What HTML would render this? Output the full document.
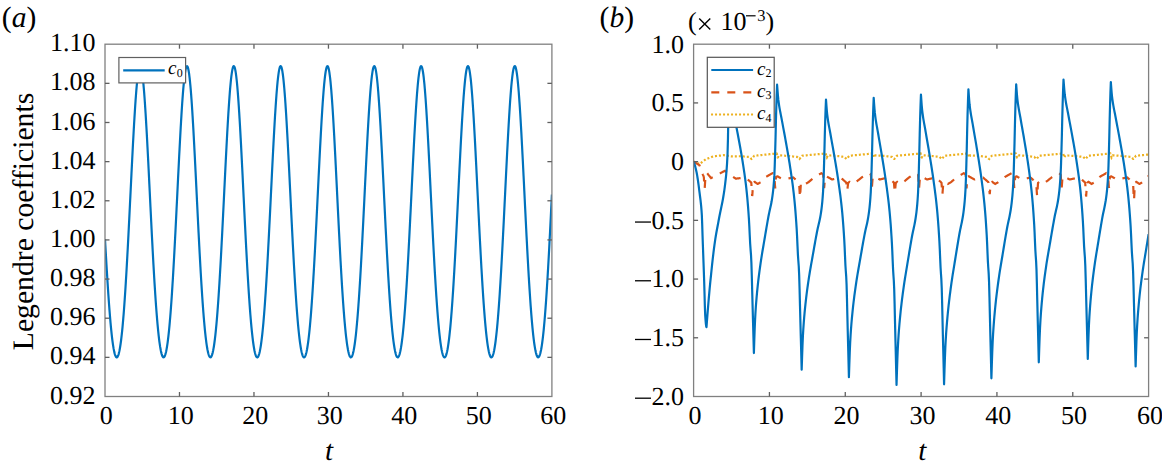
<!DOCTYPE html>
<html><head><meta charset="utf-8"><style>html,body{margin:0;padding:0;background:#fff;overflow:hidden}svg{display:block}</style></head>
<body><svg width="1162" height="468" viewBox="0 0 1162 468">
<style>
text{font-family:"Liberation Serif",serif;fill:#000;text-rendering:geometricPrecision}
.tk{font-size:26px}
</style>
<rect width="1162" height="468" fill="#fff"/>
<defs>
<clipPath id="cl"><rect x="105.0" y="44.2" width="446.90" height="352.30"/></clipPath>
<clipPath id="cr"><rect x="693.6" y="44.2" width="455.00" height="352.30"/></clipPath>
</defs>
<!-- left panel -->
<path d="M105.00,239.13L105.37,245.69L105.75,252.20L106.12,258.63L106.49,264.97L106.86,271.18L107.24,277.26L107.61,283.18L107.98,288.93L108.35,294.49L108.73,299.85L109.10,305.01L109.47,309.95L109.85,314.66L110.22,319.14L110.59,323.38L110.96,327.38L111.34,331.13L111.71,334.64L112.08,337.89L112.45,340.89L112.83,343.64L113.20,346.14L113.57,348.38L113.95,350.38L114.32,352.12L114.69,353.61L115.06,354.85L115.44,355.84L115.81,356.59L116.18,357.08L116.55,357.33L116.93,357.32L117.30,357.07L117.67,356.57L118.05,355.82L118.42,354.82L118.79,353.57L119.16,352.07L119.54,350.32L119.91,348.31L120.28,346.04L120.65,343.52L121.03,340.74L121.40,337.70L121.77,334.40L122.15,330.84L122.52,327.03L122.89,322.95L123.26,318.62L123.64,314.04L124.01,309.21L124.38,304.13L124.75,298.80L125.13,293.24L125.50,287.45L125.87,281.44L126.25,275.22L126.62,268.80L126.99,262.18L127.36,255.39L127.74,248.44L128.11,241.34L128.48,234.11L128.85,226.76L129.23,219.32L129.60,211.80L129.97,204.24L130.35,196.64L130.72,189.03L131.09,181.43L131.46,173.88L131.84,166.39L132.21,158.98L132.58,151.70L132.95,144.55L133.33,137.57L133.70,130.78L134.07,124.21L134.45,117.88L134.82,111.82L135.19,106.05L135.56,100.59L135.94,95.47L136.31,90.70L136.68,86.31L137.05,82.31L137.43,78.72L137.80,75.56L138.17,72.84L138.55,70.57L138.92,68.75L139.29,67.41L139.66,66.54L140.04,66.15L140.41,66.23L140.78,66.80L141.15,67.84L141.53,69.35L141.90,71.33L142.27,73.76L142.65,76.64L143.02,79.96L143.39,83.69L143.76,87.83L144.14,92.36L144.51,97.26L144.88,102.50L145.25,108.07L145.63,113.95L146.00,120.11L146.37,126.53L146.75,133.18L147.12,140.04L147.49,147.09L147.86,154.29L148.24,161.62L148.61,169.06L148.98,176.57L149.35,184.14L149.73,191.75L150.10,199.36L150.47,206.95L150.85,214.50L151.22,221.99L151.59,229.40L151.96,236.71L152.34,243.89L152.71,250.95L153.08,257.84L153.45,264.57L153.83,271.12L154.20,277.47L154.57,283.62L154.95,289.55L155.32,295.26L155.69,300.74L156.06,305.98L156.44,310.97L156.81,315.71L157.18,320.21L157.55,324.45L157.93,328.43L158.30,332.15L158.67,335.62L159.05,338.82L159.42,341.77L159.79,344.46L160.16,346.89L160.54,349.06L160.91,350.98L161.28,352.65L161.65,354.06L162.03,355.22L162.40,356.13L162.77,356.79L163.15,357.19L163.52,357.35L163.89,357.26L164.26,356.92L164.64,356.34L165.01,355.50L165.38,354.41L165.75,353.07L166.13,351.47L166.50,349.62L166.87,347.52L167.25,345.16L167.62,342.54L167.99,339.67L168.36,336.53L168.74,333.14L169.11,329.49L169.48,325.58L169.85,321.41L170.23,316.99L170.60,312.31L170.97,307.39L171.35,302.22L171.72,296.81L172.09,291.16L172.46,285.29L172.84,279.20L173.21,272.90L173.58,266.41L173.95,259.73L174.33,252.88L174.70,245.87L175.07,238.72L175.45,231.44L175.82,224.06L176.19,216.59L176.56,209.05L176.94,201.47L177.31,193.86L177.68,186.25L178.05,178.67L178.43,171.14L178.80,163.68L179.17,156.31L179.55,149.07L179.92,141.98L180.29,135.07L180.66,128.36L181.04,121.87L181.41,115.64L181.78,109.68L182.15,104.02L182.53,98.68L182.90,93.68L183.27,89.05L183.65,84.80L184.02,80.95L184.39,77.52L184.76,74.52L185.14,71.96L185.51,69.85L185.88,68.21L186.25,67.04L186.63,66.34L187.00,66.12L187.37,66.38L187.75,67.12L188.12,68.33L188.49,70.02L188.86,72.16L189.24,74.76L189.61,77.80L189.98,81.27L190.35,85.16L190.73,89.44L191.10,94.10L191.47,99.13L191.85,104.50L192.22,110.18L192.59,116.17L192.96,122.43L193.34,128.93L193.71,135.66L194.08,142.59L194.45,149.70L194.83,156.95L195.20,164.32L195.57,171.79L195.95,179.33L196.32,186.92L196.69,194.52L197.06,202.13L197.44,209.71L197.81,217.24L198.18,224.70L198.55,232.08L198.93,239.34L199.30,246.48L199.67,253.48L200.05,260.32L200.42,266.98L200.79,273.46L201.16,279.74L201.54,285.81L201.91,291.66L202.28,297.29L202.65,302.68L203.03,307.83L203.40,312.73L203.77,317.38L204.15,321.78L204.52,325.93L204.89,329.82L205.26,333.45L205.64,336.82L206.01,339.93L206.38,342.78L206.75,345.38L207.13,347.71L207.50,349.79L207.87,351.62L208.25,353.19L208.62,354.51L208.99,355.58L209.36,356.40L209.74,356.96L210.11,357.28L210.48,357.35L210.85,357.17L211.23,356.74L211.60,356.06L211.97,355.13L212.35,353.95L212.72,352.51L213.09,350.83L213.46,348.89L213.84,346.69L214.21,344.24L214.58,341.52L214.95,338.56L215.33,335.33L215.70,331.84L216.07,328.09L216.45,324.09L216.82,319.83L217.19,315.31L217.56,310.54L217.94,305.53L218.31,300.27L218.68,294.77L219.05,289.05L219.43,283.09L219.80,276.93L220.17,270.56L220.55,263.99L220.92,257.25L221.29,250.34L221.66,243.28L222.04,236.08L222.41,228.76L222.78,221.34L223.15,213.84L223.53,206.29L223.90,198.69L224.27,191.09L224.65,183.48L225.02,175.92L225.39,168.41L225.76,160.98L226.14,153.66L226.51,146.47L226.88,139.44L227.25,132.60L227.63,125.96L228.00,119.57L228.37,113.43L228.75,107.58L229.12,102.03L229.49,96.82L229.86,91.95L230.24,87.46L230.61,83.35L230.98,79.65L231.35,76.37L231.73,73.53L232.10,71.14L232.47,69.20L232.85,67.73L233.22,66.73L233.59,66.20L233.96,66.16L234.34,66.60L234.71,67.51L235.08,68.89L235.45,70.75L235.83,73.06L236.20,75.82L236.57,79.02L236.95,82.64L237.32,86.67L237.69,91.10L238.06,95.90L238.44,101.05L238.81,106.54L239.18,112.33L239.55,118.42L239.93,124.77L240.30,131.36L240.67,138.17L241.05,145.17L241.42,152.33L241.79,159.62L242.16,167.03L242.54,174.53L242.91,182.09L243.28,189.69L243.65,197.30L244.03,204.90L244.40,212.46L244.77,219.97L245.15,227.40L245.52,234.74L245.89,241.96L246.26,249.05L246.64,255.99L247.01,262.77L247.38,269.37L247.75,275.77L248.13,281.98L248.50,287.97L248.87,293.74L249.25,299.28L249.62,304.58L249.99,309.64L250.36,314.46L250.74,319.02L251.11,323.33L251.48,327.38L251.85,331.17L252.23,334.71L252.60,337.98L252.97,341.00L253.35,343.76L253.72,346.26L254.09,348.50L254.46,350.49L254.84,352.22L255.21,353.70L255.58,354.93L255.95,355.91L256.33,356.63L256.70,357.11L257.07,357.33L257.45,357.31L257.82,357.04L258.19,356.52L258.56,355.75L258.94,354.73L259.31,353.45L259.68,351.93L260.05,350.15L260.43,348.11L260.80,345.82L261.17,343.28L261.55,340.47L261.92,337.41L262.29,334.08L262.66,330.50L263.04,326.66L263.41,322.56L263.78,318.21L264.15,313.60L264.53,308.74L264.90,303.64L265.27,298.29L265.65,292.71L266.02,286.90L266.39,280.87L266.76,274.63L267.14,268.19L267.51,261.55L267.88,254.75L268.25,247.78L268.63,240.66L269.00,233.42L269.37,226.06L269.75,218.62L270.12,211.09L270.49,203.52L270.86,195.92L271.24,188.31L271.61,180.72L271.98,173.17L272.35,165.68L272.73,158.29L273.10,151.02L273.47,143.88L273.85,136.92L274.22,130.15L274.59,123.60L274.96,117.30L275.34,111.26L275.71,105.52L276.08,100.09L276.45,95.00L276.83,90.27L277.20,85.91L277.57,81.95L277.95,78.41L278.32,75.29L278.69,72.60L279.06,70.38L279.44,68.61L279.81,67.31L280.18,66.48L280.55,66.13L280.93,66.26L281.30,66.87L281.67,67.96L282.05,69.52L282.42,71.54L282.79,74.01L283.16,76.94L283.54,80.29L283.91,84.07L284.28,88.24L284.65,92.81L285.03,97.74L285.40,103.01L285.77,108.62L286.15,114.52L286.52,120.71L286.89,127.15L287.26,133.82L287.64,140.70L288.01,147.76L288.38,154.97L288.75,162.32L289.13,169.76L289.50,177.28L289.87,184.86L290.25,192.46L290.62,200.07L290.99,207.66L291.36,215.21L291.74,222.69L292.11,230.09L292.48,237.39L292.85,244.57L293.23,251.60L293.60,258.49L293.97,265.20L294.35,271.73L294.72,278.06L295.09,284.19L295.46,290.10L295.84,295.79L296.21,301.24L296.58,306.46L296.95,311.43L297.33,316.15L297.70,320.62L298.07,324.83L298.45,328.79L298.82,332.49L299.19,335.93L299.56,339.11L299.94,342.04L300.31,344.70L300.68,347.11L301.05,349.26L301.43,351.15L301.80,352.79L302.17,354.18L302.55,355.32L302.92,356.20L303.29,356.83L303.66,357.22L304.04,357.36L304.41,357.24L304.78,356.88L305.15,356.27L305.53,355.40L305.90,354.29L306.27,352.93L306.65,351.31L307.02,349.44L307.39,347.31L307.76,344.92L308.14,342.28L308.51,339.38L308.88,336.23L309.25,332.81L309.63,329.13L310.00,325.20L310.37,321.01L310.75,316.56L311.12,311.86L311.49,306.91L311.86,301.72L312.24,296.28L312.61,290.62L312.98,284.73L313.35,278.62L313.73,272.30L314.10,265.79L314.47,259.09L314.85,252.22L315.22,245.20L315.59,238.04L315.96,230.75L316.34,223.36L316.71,215.88L317.08,208.34L317.45,200.75L317.83,193.14L318.20,185.54L318.57,177.96L318.95,170.43L319.32,162.98L319.69,155.62L320.06,148.40L320.44,141.32L320.81,134.43L321.18,127.74L321.55,121.27L321.93,115.06L322.30,109.13L322.67,103.50L323.05,98.19L323.42,93.23L323.79,88.63L324.16,84.42L324.54,80.61L324.91,77.22L325.28,74.26L325.65,71.74L326.03,69.68L326.40,68.08L326.77,66.95L327.15,66.30L327.52,66.13L327.89,66.43L328.26,67.21L328.64,68.47L329.01,70.20L329.38,72.39L329.75,75.03L330.13,78.11L330.50,81.62L330.87,85.54L331.25,89.86L331.62,94.56L331.99,99.62L332.36,105.02L332.74,110.74L333.11,116.75L333.48,123.03L333.85,129.56L334.23,136.31L334.60,143.26L334.97,150.37L335.35,157.64L335.72,165.02L336.09,172.50L336.46,180.04L336.84,187.63L337.21,195.24L337.58,202.84L337.95,210.42L338.33,217.95L338.70,225.40L339.07,232.77L339.45,240.02L339.82,247.15L340.19,254.13L340.56,260.95L340.94,267.60L341.31,274.06L341.68,280.32L342.05,286.37L342.43,292.20L342.80,297.80L343.17,303.17L343.55,308.30L343.92,313.18L344.29,317.81L344.66,322.19L345.04,326.31L345.41,330.17L345.78,333.78L346.15,337.12L346.53,340.21L346.90,343.04L347.27,345.61L347.65,347.92L348.02,349.98L348.39,351.78L348.76,353.33L349.14,354.62L349.51,355.67L349.88,356.46L350.25,357.00L350.63,357.30L351.00,357.34L351.37,357.14L351.75,356.68L352.12,355.98L352.49,355.03L352.86,353.82L353.24,352.36L353.61,350.65L353.98,348.69L354.35,346.47L354.73,343.99L355.10,341.26L355.47,338.26L355.85,335.01L356.22,331.50L356.59,327.73L356.96,323.70L357.34,319.41L357.71,314.87L358.08,310.08L358.45,305.04L358.83,299.76L359.20,294.24L359.57,288.49L359.95,282.52L360.32,276.34L360.69,269.95L361.06,263.37L361.44,256.60L361.81,249.68L362.18,242.60L362.55,235.39L362.93,228.06L363.30,220.64L363.67,213.13L364.05,205.57L364.42,197.98L364.79,190.37L365.16,182.77L365.54,175.20L365.91,167.70L366.28,160.28L366.65,152.97L367.03,145.80L367.40,138.79L367.77,131.96L368.15,125.35L368.52,118.98L368.89,112.87L369.26,107.04L369.64,101.53L370.01,96.34L370.38,91.51L370.75,87.05L371.13,82.98L371.50,79.32L371.87,76.09L372.25,73.29L372.62,70.93L372.99,69.04L373.36,67.61L373.74,66.66L374.11,66.18L374.48,66.18L374.85,66.66L375.23,67.62L375.60,69.05L375.97,70.94L376.35,73.30L376.72,76.10L377.09,79.34L377.46,83.00L377.84,87.07L378.21,91.53L378.58,96.37L378.95,101.55L379.33,107.07L379.70,112.90L380.07,119.01L380.45,125.38L380.82,132.00L381.19,138.82L381.56,145.83L381.94,153.01L382.31,160.32L382.68,167.74L383.05,175.24L383.43,182.81L383.80,190.41L384.17,198.02L384.55,205.61L384.92,213.17L385.29,220.68L385.66,228.10L386.04,235.43L386.41,242.64L386.78,249.71L387.15,256.64L387.53,263.40L387.90,269.98L388.27,276.37L388.65,282.55L389.02,288.52L389.39,294.27L389.76,299.79L390.14,305.07L390.51,310.11L390.88,314.90L391.25,319.44L391.63,323.72L392.00,327.75L392.37,331.52L392.75,335.03L393.12,338.28L393.49,341.27L393.86,344.00L394.24,346.48L394.61,348.70L394.98,350.66L395.35,352.37L395.73,353.83L396.10,355.03L396.47,355.99L396.85,356.69L397.22,357.14L397.59,357.34L397.96,357.30L398.34,357.00L398.71,356.46L399.08,355.66L399.45,354.62L399.83,353.32L400.20,351.77L400.57,349.97L400.95,347.91L401.32,345.59L401.69,343.02L402.06,340.19L402.44,337.11L402.81,333.76L403.18,330.15L403.55,326.29L403.93,322.16L404.30,317.79L404.67,313.15L405.05,308.27L405.42,303.14L405.79,297.78L406.16,292.17L406.54,286.34L406.91,280.29L407.28,274.03L407.65,267.57L408.03,260.92L408.40,254.10L408.77,247.11L409.15,239.99L409.52,232.73L409.89,225.36L410.26,217.91L410.64,210.38L411.01,202.81L411.38,195.20L411.75,187.59L412.13,180.00L412.50,172.46L412.87,164.98L413.25,157.60L413.62,150.34L413.99,143.22L414.36,136.27L414.74,129.52L415.11,123.00L415.48,116.72L415.85,110.71L416.23,104.99L416.60,99.60L416.97,94.54L417.35,89.84L417.72,85.52L418.09,81.60L418.46,78.09L418.84,75.01L419.21,72.37L419.58,70.19L419.95,68.46L420.33,67.21L420.70,66.43L421.07,66.13L421.45,66.30L421.82,66.96L422.19,68.09L422.56,69.69L422.94,71.75L423.31,74.27L423.68,77.23L424.05,80.63L424.43,84.44L424.80,88.66L425.17,93.26L425.55,98.22L425.92,103.53L426.29,109.16L426.66,115.09L427.04,121.31L427.41,127.77L427.78,134.46L428.15,141.36L428.53,148.43L428.90,155.66L429.27,163.01L429.65,170.47L430.02,178.00L430.39,185.58L430.76,193.18L431.14,200.79L431.51,208.38L431.88,215.92L432.25,223.39L432.63,230.79L433.00,238.07L433.37,245.24L433.75,252.26L434.12,259.13L434.49,265.82L434.86,272.33L435.24,278.65L435.61,284.76L435.98,290.65L436.35,296.31L436.73,301.74L437.10,306.94L437.47,311.88L437.85,316.58L438.22,321.03L438.59,325.22L438.96,329.15L439.34,332.83L439.71,336.24L440.08,339.40L440.45,342.30L440.83,344.94L441.20,347.32L441.57,349.45L441.95,351.32L442.32,352.93L442.69,354.30L443.06,355.41L443.44,356.27L443.81,356.88L444.18,357.24L444.55,357.36L444.93,357.22L445.30,356.83L445.67,356.20L446.05,355.31L446.42,354.17L446.79,352.78L447.16,351.14L447.54,349.25L447.91,347.09L448.28,344.69L448.65,342.02L449.03,339.10L449.40,335.91L449.77,332.47L450.15,328.77L450.52,324.81L450.89,320.60L451.26,316.13L451.64,311.40L452.01,306.43L452.38,301.21L452.75,295.76L453.13,290.07L453.50,284.16L453.87,278.03L454.25,271.69L454.62,265.16L454.99,258.45L455.36,251.57L455.74,244.53L456.11,237.35L456.48,230.06L456.85,222.65L457.23,215.17L457.60,207.62L457.97,200.03L458.35,192.43L458.72,184.82L459.09,177.25L459.46,169.72L459.84,162.28L460.21,154.94L460.58,147.72L460.95,140.66L461.33,133.79L461.70,127.12L462.07,120.68L462.45,114.49L462.82,108.59L463.19,102.99L463.56,97.71L463.94,92.78L464.31,88.22L464.68,84.04L465.05,80.27L465.43,76.92L465.80,74.00L466.17,71.52L466.55,69.51L466.92,67.95L467.29,66.87L467.66,66.26L468.04,66.13L468.41,66.48L468.78,67.31L469.15,68.62L469.53,70.39L469.90,72.62L470.27,75.30L470.65,78.42L471.02,81.97L471.39,85.93L471.76,90.29L472.14,95.03L472.51,100.12L472.88,105.55L473.25,111.29L473.63,117.33L474.00,123.64L474.37,130.19L474.75,136.96L475.12,143.92L475.49,151.05L475.86,158.33L476.24,165.72L476.61,173.21L476.98,180.76L477.35,188.35L477.73,195.96L478.10,203.56L478.47,211.13L478.85,218.65L479.22,226.10L479.59,233.46L479.96,240.70L480.34,247.82L480.71,254.78L481.08,261.59L481.45,268.22L481.83,274.66L482.20,280.90L482.57,286.93L482.95,292.74L483.32,298.32L483.69,303.67L484.06,308.77L484.44,313.63L484.81,318.23L485.18,322.59L485.55,326.68L485.93,330.52L486.30,334.10L486.67,337.42L487.05,340.49L487.42,343.29L487.79,345.84L488.16,348.12L488.54,350.16L488.91,351.94L489.28,353.46L489.65,354.73L490.03,355.75L490.40,356.52L490.77,357.04L491.15,357.31L491.52,357.33L491.89,357.11L492.26,356.63L492.64,355.90L493.01,354.92L493.38,353.70L493.75,352.21L494.13,350.48L494.50,348.49L494.87,346.25L495.25,343.74L495.62,340.98L495.99,337.97L496.36,334.69L496.74,331.15L497.11,327.36L497.48,323.30L497.85,319.00L498.23,314.43L498.60,309.62L498.97,304.56L499.35,299.25L499.72,293.71L500.09,287.94L500.46,281.95L500.84,275.74L501.21,269.33L501.58,262.74L501.95,255.96L502.33,249.02L502.70,241.93L503.07,234.70L503.45,227.37L503.82,219.93L504.19,212.42L504.56,204.86L504.94,197.26L505.31,189.65L505.68,182.05L506.05,174.49L506.43,167.00L506.80,159.59L507.17,152.29L507.55,145.13L507.92,138.13L508.29,131.33L508.66,124.74L509.04,118.39L509.41,112.30L509.78,106.51L510.15,101.02L510.53,95.87L510.90,91.07L511.27,86.65L511.65,82.62L512.02,79.00L512.39,75.80L512.76,73.04L513.14,70.73L513.51,68.88L513.88,67.50L514.25,66.59L514.63,66.16L515.00,66.21L515.37,66.73L515.75,67.73L516.12,69.21L516.49,71.15L516.86,73.54L517.24,76.39L517.61,79.67L517.98,83.37L518.35,87.48L518.73,91.98L519.10,96.84L519.47,102.06L519.85,107.61L520.22,113.46L520.59,119.60L520.96,126.00L521.34,132.63L521.71,139.48L522.08,146.50L522.45,153.69L522.83,161.01L523.20,168.44L523.57,175.96L523.95,183.52L524.32,191.12L524.69,198.73L525.06,206.33L525.44,213.88L525.81,221.38L526.18,228.80L526.55,236.11L526.93,243.31L527.30,250.37L527.67,257.29L528.05,264.03L528.42,270.59L528.79,276.96L529.16,283.13L529.54,289.08L529.91,294.80L530.28,300.30L530.65,305.56L531.03,310.57L531.40,315.34L531.77,319.85L532.15,324.11L532.52,328.11L532.89,331.86L533.26,335.34L533.64,338.57L534.01,341.54L534.38,344.25L534.75,346.70L535.13,348.90L535.50,350.84L535.87,352.52L536.25,353.95L536.62,355.13L536.99,356.06L537.36,356.74L537.74,357.17L538.11,357.35L538.48,357.28L538.85,356.96L539.23,356.39L539.60,355.57L539.97,354.51L540.35,353.18L540.72,351.61L541.09,349.78L541.46,347.70L541.84,345.36L542.21,342.77L542.58,339.91L542.95,336.80L543.33,333.43L543.70,329.80L544.07,325.91L544.45,321.76L544.82,317.36L545.19,312.70L545.56,307.80L545.94,302.65L546.31,297.26L546.68,291.63L547.05,285.78L547.43,279.71L547.80,273.43L548.17,266.95L548.55,260.28L548.92,253.44L549.29,246.45L549.66,239.31L550.04,232.04L550.41,224.66L550.78,217.20L551.15,209.67L551.53,202.09L551.90,194.48" fill="none" stroke="#0072BD" stroke-width="2.2" stroke-linejoin="round" clip-path="url(#cl)"/>
<rect x="105.0" y="44.2" width="446.90" height="352.30" fill="none" stroke="#808080" stroke-width="1.3"/>
<line x1="179.48" y1="396.5" x2="179.48" y2="392.0" stroke="#606060" stroke-width="1.3"/>
<line x1="179.48" y1="44.2" x2="179.48" y2="48.7" stroke="#606060" stroke-width="1.3"/>
<line x1="253.97" y1="396.5" x2="253.97" y2="392.0" stroke="#606060" stroke-width="1.3"/>
<line x1="253.97" y1="44.2" x2="253.97" y2="48.7" stroke="#606060" stroke-width="1.3"/>
<line x1="328.45" y1="396.5" x2="328.45" y2="392.0" stroke="#606060" stroke-width="1.3"/>
<line x1="328.45" y1="44.2" x2="328.45" y2="48.7" stroke="#606060" stroke-width="1.3"/>
<line x1="402.93" y1="396.5" x2="402.93" y2="392.0" stroke="#606060" stroke-width="1.3"/>
<line x1="402.93" y1="44.2" x2="402.93" y2="48.7" stroke="#606060" stroke-width="1.3"/>
<line x1="477.42" y1="396.5" x2="477.42" y2="392.0" stroke="#606060" stroke-width="1.3"/>
<line x1="477.42" y1="44.2" x2="477.42" y2="48.7" stroke="#606060" stroke-width="1.3"/>
<line x1="105.0" y1="357.36" x2="109.5" y2="357.36" stroke="#606060" stroke-width="1.3"/>
<line x1="551.9" y1="357.36" x2="547.4" y2="357.36" stroke="#606060" stroke-width="1.3"/>
<line x1="105.0" y1="318.21" x2="109.5" y2="318.21" stroke="#606060" stroke-width="1.3"/>
<line x1="551.9" y1="318.21" x2="547.4" y2="318.21" stroke="#606060" stroke-width="1.3"/>
<line x1="105.0" y1="279.07" x2="109.5" y2="279.07" stroke="#606060" stroke-width="1.3"/>
<line x1="551.9" y1="279.07" x2="547.4" y2="279.07" stroke="#606060" stroke-width="1.3"/>
<line x1="105.0" y1="239.92" x2="109.5" y2="239.92" stroke="#606060" stroke-width="1.3"/>
<line x1="551.9" y1="239.92" x2="547.4" y2="239.92" stroke="#606060" stroke-width="1.3"/>
<line x1="105.0" y1="200.78" x2="109.5" y2="200.78" stroke="#606060" stroke-width="1.3"/>
<line x1="551.9" y1="200.78" x2="547.4" y2="200.78" stroke="#606060" stroke-width="1.3"/>
<line x1="105.0" y1="161.63" x2="109.5" y2="161.63" stroke="#606060" stroke-width="1.3"/>
<line x1="551.9" y1="161.63" x2="547.4" y2="161.63" stroke="#606060" stroke-width="1.3"/>
<line x1="105.0" y1="122.49" x2="109.5" y2="122.49" stroke="#606060" stroke-width="1.3"/>
<line x1="551.9" y1="122.49" x2="547.4" y2="122.49" stroke="#606060" stroke-width="1.3"/>
<line x1="105.0" y1="83.34" x2="109.5" y2="83.34" stroke="#606060" stroke-width="1.3"/>
<line x1="551.9" y1="83.34" x2="547.4" y2="83.34" stroke="#606060" stroke-width="1.3"/>
<text x="106.30" y="424.3" text-anchor="middle" class="tk">0</text>
<text x="180.78" y="424.3" text-anchor="middle" class="tk">10</text>
<text x="255.27" y="424.3" text-anchor="middle" class="tk">20</text>
<text x="329.75" y="424.3" text-anchor="middle" class="tk">30</text>
<text x="404.23" y="424.3" text-anchor="middle" class="tk">40</text>
<text x="478.72" y="424.3" text-anchor="middle" class="tk">50</text>
<text x="553.20" y="424.3" text-anchor="middle" class="tk">60</text>
<text x="95.50" y="403.60" text-anchor="end" class="tk">0.92</text>
<text x="95.50" y="364.46" text-anchor="end" class="tk">0.94</text>
<text x="95.50" y="325.31" text-anchor="end" class="tk">0.96</text>
<text x="95.50" y="286.17" text-anchor="end" class="tk">0.98</text>
<text x="95.50" y="247.02" text-anchor="end" class="tk">1.00</text>
<text x="95.50" y="207.88" text-anchor="end" class="tk">1.02</text>
<text x="95.50" y="168.73" text-anchor="end" class="tk">1.04</text>
<text x="95.50" y="129.59" text-anchor="end" class="tk">1.06</text>
<text x="95.50" y="90.44" text-anchor="end" class="tk">1.08</text>
<text x="95.50" y="51.30" text-anchor="end" class="tk">1.10</text>
<g>
<rect x="118.9" y="57.5" width="66.7" height="25.4" fill="#fff" stroke="#606060" stroke-width="1.2"/>
<line x1="123.2" y1="70.3" x2="164.7" y2="70.3" stroke="#0072BD" stroke-width="2.2"/>
<text x="168" y="73.9" font-size="19" font-style="italic">c</text><text x="176.8" y="76.5" font-size="12">0</text>
</g>
<text x="1.8" y="26.9" font-size="29.5">(<tspan font-style="italic">a</tspan>)</text>
<text transform="translate(32.7,221.5) rotate(-90)" text-anchor="middle" font-size="29.7">Legendre coefficients</text>
<text x="329.0" y="460.0" text-anchor="middle" font-size="29" font-style="italic">t</text>
<!-- right panel -->
<g clip-path="url(#cr)">
<path d="M693.60,161.63L693.75,161.69L693.90,161.75L694.06,161.81L694.21,161.87L694.36,161.93L694.51,161.99L694.66,162.04L694.81,162.10L694.97,162.16L695.12,162.22L695.27,162.28L695.42,162.34L695.57,162.40L695.72,162.46L695.88,162.51L696.03,162.57L696.18,162.63L696.33,162.69L696.48,162.75L696.63,162.81L696.79,162.87L696.94,162.93L697.09,162.98L697.24,163.04L697.39,163.10L697.54,163.16L697.70,163.22L697.85,163.28L698.00,163.34L698.15,163.40L698.30,163.45L698.45,163.51L698.61,163.57L698.76,163.63L698.91,163.69L699.06,163.75L699.21,163.81L699.37,163.87L699.52,163.92L699.67,163.98L699.82,163.86L699.97,163.75L700.12,163.63L700.28,163.51L700.43,163.39L700.58,163.28L700.73,163.16L700.88,163.04L701.03,162.92L701.19,162.81L701.34,162.69L701.49,162.57L701.64,162.45L701.79,162.34L701.94,162.22L702.10,162.10L702.25,161.98L702.40,161.87L702.55,161.75L702.70,161.63L702.85,161.51L703.01,161.40L703.16,161.28L703.31,161.16L703.46,161.04L703.61,160.93L703.77,160.81L703.92,160.69L704.07,160.57L704.22,160.46L704.37,160.34L704.52,160.22L704.68,160.10L704.83,159.99L704.98,159.87L705.13,159.75L705.28,159.63L705.43,159.52L705.59,159.40L705.74,159.28L705.89,159.22L706.04,159.17L706.19,159.11L706.34,159.05L706.50,158.99L706.65,158.93L706.80,158.87L706.95,158.81L707.10,158.75L707.25,158.70L707.41,158.64L707.56,158.58L707.71,158.52L707.86,158.46L708.01,158.40L708.16,158.34L708.32,158.28L708.47,158.23L708.62,158.17L708.77,158.11L708.92,158.05L709.08,157.99L709.23,157.93L709.38,157.87L709.53,157.81L709.68,157.76L709.83,157.70L709.99,157.64L710.14,157.58L710.29,157.52L710.44,157.46L710.59,157.40L710.74,157.34L710.90,157.29L711.05,157.23L711.20,157.17L711.35,157.11L711.50,157.05L711.65,156.99L711.81,156.93L711.96,156.87L712.11,156.82L712.26,156.76L712.41,156.70L712.56,156.64L712.72,156.58L712.87,156.52L713.02,156.46L713.17,156.41L713.32,156.35L713.47,156.33L713.63,156.31L713.78,156.30L713.93,156.28L714.08,156.26L714.23,156.25L714.39,156.23L714.54,156.21L714.69,156.20L714.84,156.18L714.99,156.16L715.14,156.15L715.30,156.13L715.45,156.11L715.60,156.10L715.75,156.08L715.90,156.06L716.05,156.05L716.21,156.03L716.36,156.01L716.51,156.00L716.66,155.98L716.81,155.96L716.96,155.95L717.12,155.93L717.27,155.91L717.42,155.89L717.57,155.88L717.72,155.86L717.87,155.84L718.03,155.83L718.18,155.81L718.33,155.79L718.48,155.78L718.63,155.76L718.79,155.74L718.94,155.73L719.09,155.71L719.24,155.69L719.39,155.68L719.54,155.66L719.70,155.64L719.85,155.63L720.00,155.61L720.15,155.59L720.30,155.58L720.45,155.56L720.61,155.54L720.76,155.53L720.91,155.51L721.06,155.49L721.21,155.48L721.36,155.46L721.52,155.44L721.67,155.43L721.82,155.41L721.97,155.39L722.12,155.37L722.27,155.36L722.43,155.34L722.58,155.32L722.73,155.31L722.88,155.29L723.03,155.27L723.18,155.26L723.34,155.24L723.49,155.22L723.64,155.21L723.79,155.19L723.94,155.18L724.10,155.20L724.25,155.23L724.40,155.25L724.55,155.28L724.70,155.30L724.85,155.33L725.01,155.35L725.16,155.38L725.31,155.41L725.46,155.43L725.61,155.46L725.76,155.48L725.92,155.51L726.07,155.53L726.22,155.56L726.37,155.58L726.52,155.61L726.67,155.64L726.83,155.66L726.98,155.69L727.13,155.71L727.28,155.74L727.43,155.76L727.58,155.79L727.74,155.81L727.89,155.84L728.04,155.87L728.19,155.89L728.34,155.92L728.49,155.94L728.65,155.97L728.80,155.99L728.95,156.02L729.10,156.04L729.25,156.07L729.41,156.10L729.56,156.12L729.71,156.15L729.86,156.17L730.01,156.20L730.16,156.22L730.32,156.25L730.47,156.27L730.62,156.30L730.77,156.33L730.92,156.35L731.07,156.35L731.23,156.35L731.38,156.34L731.53,156.34L731.68,156.34L731.83,156.34L731.98,156.34L732.14,156.33L732.29,156.33L732.44,156.33L732.59,156.33L732.74,156.33L732.89,156.33L733.05,156.32L733.20,156.32L733.35,156.32L733.50,156.32L733.65,156.32L733.81,156.31L733.96,156.31L734.11,156.31L734.26,156.31L734.41,156.31L734.56,156.31L734.72,156.30L734.87,156.30L735.02,156.30L735.17,156.30L735.32,156.30L735.47,156.29L735.63,156.29L735.78,156.29L735.93,156.29L736.08,156.29L736.23,156.29L736.38,156.28L736.54,156.28L736.69,156.28L736.84,156.28L736.99,156.28L737.14,156.27L737.29,156.27L737.45,156.27L737.60,156.27L737.75,156.27L737.90,156.27L738.05,156.26L738.20,156.26L738.36,156.26L738.51,156.26L738.66,156.26L738.81,156.25L738.96,156.25L739.12,156.25L739.27,156.25L739.42,156.25L739.57,156.25L739.72,156.24L739.87,156.24L740.03,156.24L740.18,156.24L740.33,156.24L740.48,156.23L740.63,156.23L740.78,156.23L740.94,156.25L741.09,156.26L741.24,156.27L741.39,156.28L741.54,156.30L741.69,156.31L741.85,156.32L742.00,156.33L742.15,156.34L742.30,156.36L742.45,156.37L742.60,156.38L742.76,156.39L742.91,156.41L743.06,156.42L743.21,156.43L743.36,156.44L743.51,156.46L743.67,156.47L743.82,156.48L743.97,156.49L744.12,156.51L744.27,156.52L744.43,156.53L744.58,156.54L744.73,156.56L744.88,156.57L745.03,156.58L745.18,156.59L745.34,156.61L745.49,156.62L745.64,156.63L745.79,156.64L745.94,156.66L746.09,156.67L746.25,156.68L746.40,156.69L746.55,156.71L746.70,156.72L746.85,156.73L747.00,156.74L747.16,156.76L747.31,156.77L747.46,156.78L747.61,156.79L747.76,156.81L747.91,156.82L748.07,156.83L748.22,156.84L748.37,156.86L748.52,156.87L748.67,156.88L748.83,156.89L748.98,156.91L749.13,156.92L749.28,156.93L749.43,157.02L749.58,157.16L749.74,157.31L749.89,157.45L750.04,157.59L750.19,157.73L750.34,157.87L750.49,158.01L750.65,158.15L750.80,158.29L750.95,158.43L751.10,158.57L751.25,158.72L751.40,158.86L751.56,159.00L751.71,158.93L751.86,158.74L752.01,158.56L752.16,158.37L752.31,158.18L752.47,157.99L752.62,157.80L752.77,157.62L752.92,157.43L753.07,157.24L753.22,157.05L753.38,156.86L753.53,156.68L753.68,156.49L753.83,156.30L753.98,156.11L754.14,155.92L754.29,155.76L754.44,155.74L754.59,155.73L754.74,155.72L754.89,155.70L755.05,155.69L755.20,155.67L755.35,155.66L755.50,155.64L755.65,155.63L755.80,155.61L755.96,155.60L756.11,155.58L756.26,155.57L756.41,155.55L756.56,155.54L756.71,155.52L756.87,155.51L757.02,155.49L757.17,155.48L757.32,155.46L757.47,155.45L757.62,155.43L757.78,155.42L757.93,155.40L758.08,155.39L758.23,155.37L758.38,155.36L758.53,155.34L758.69,155.33L758.84,155.31L758.99,155.30L759.14,155.28L759.29,155.27L759.45,155.26L759.60,155.24L759.75,155.23L759.90,155.21L760.05,155.20L760.20,155.18L760.36,155.17L760.51,155.15L760.66,155.14L760.81,155.12L760.96,155.11L761.11,155.09L761.27,155.08L761.42,155.06L761.57,155.05L761.72,155.03L761.87,155.01L762.02,155.00L762.18,154.98L762.33,154.97L762.48,154.95L762.63,154.93L762.78,154.92L762.93,154.90L763.09,154.89L763.24,154.87L763.39,154.85L763.54,154.84L763.69,154.82L763.85,154.81L764.00,154.79L764.15,154.77L764.30,154.76L764.45,154.74L764.60,154.73L764.76,154.71L764.91,154.69L765.06,154.68L765.21,154.66L765.36,154.65L765.51,154.63L765.67,154.61L765.82,154.60L765.97,154.58L766.12,154.57L766.27,154.55L766.42,154.53L766.58,154.52L766.73,154.50L766.88,154.49L767.03,154.47L767.18,154.45L767.33,154.44L767.49,154.42L767.64,154.41L767.79,154.39L767.94,154.37L768.09,154.36L768.24,154.34L768.40,154.33L768.55,154.31L768.70,154.29L768.85,154.28L769.00,154.26L769.16,154.25L769.31,154.23L769.46,154.21L769.61,154.20L769.76,154.18L769.91,154.17L770.07,154.15L770.22,154.13L770.37,154.12L770.52,154.10L770.67,154.09L770.82,154.07L770.98,154.05L771.13,154.04L771.28,154.02L771.43,154.01L771.58,153.99L771.73,153.97L771.89,153.96L772.04,153.94L772.19,153.93L772.34,153.91L772.49,153.89L772.64,153.88L772.80,153.86L772.95,153.85L773.10,153.83L773.25,153.81L773.40,153.80L773.55,153.78L773.71,153.77L773.86,153.75L774.01,153.73L774.16,153.72L774.31,153.70L774.47,153.69L774.62,153.67L774.77,153.65L774.92,153.64L775.07,153.62L775.22,153.60L775.38,153.58L775.53,153.56L775.68,153.54L775.83,153.52L775.98,153.50L776.13,153.48L776.29,153.47L776.44,153.45L776.59,153.43L776.74,153.51L776.89,154.06L777.04,154.61L777.20,155.16L777.35,155.71L777.50,156.25L777.65,156.80L777.80,157.35L777.95,157.32L778.11,157.02L778.26,156.72L778.41,156.43L778.56,156.13L778.71,155.83L778.87,155.53L779.02,155.29L779.17,155.31L779.32,155.32L779.47,155.33L779.62,155.34L779.78,155.35L779.93,155.36L780.08,155.37L780.23,155.38L780.38,155.40L780.53,155.41L780.69,155.42L780.84,155.43L780.99,155.44L781.14,155.45L781.29,155.46L781.44,155.47L781.60,155.49L781.75,155.50L781.90,155.51L782.05,155.52L782.20,155.53L782.35,155.54L782.51,155.55L782.66,155.56L782.81,155.58L782.96,155.59L783.11,155.60L783.26,155.61L783.42,155.62L783.57,155.63L783.72,155.64L783.87,155.65L784.02,155.67L784.18,155.68L784.33,155.69L784.48,155.70L784.63,155.71L784.78,155.72L784.93,155.73L785.09,155.75L785.24,155.76L785.39,155.77L785.54,155.78L785.69,155.79L785.84,155.80L786.00,155.81L786.15,155.82L786.30,155.84L786.45,155.85L786.60,155.86L786.75,155.87L786.91,155.88L787.06,155.89L787.21,155.90L787.36,155.91L787.51,155.93L787.66,155.94L787.82,155.95L787.97,155.96L788.12,155.97L788.27,155.98L788.42,155.99L788.57,156.01L788.73,156.02L788.88,156.04L789.03,156.06L789.18,156.07L789.33,156.09L789.49,156.11L789.64,156.12L789.79,156.14L789.94,156.16L790.09,156.17L790.24,156.19L790.40,156.21L790.55,156.22L790.70,156.24L790.85,156.26L791.00,156.27L791.15,156.29L791.31,156.30L791.46,156.32L791.61,156.34L791.76,156.35L791.91,156.37L792.06,156.39L792.22,156.40L792.37,156.42L792.52,156.44L792.67,156.45L792.82,156.47L792.97,156.49L793.13,156.50L793.28,156.52L793.43,156.54L793.58,156.55L793.73,156.57L793.89,156.59L794.04,156.60L794.19,156.62L794.34,156.63L794.49,156.65L794.64,156.67L794.80,156.68L794.95,156.70L795.10,156.72L795.25,156.73L795.40,156.75L795.55,156.77L795.71,156.78L795.86,156.80L796.01,156.82L796.16,156.83L796.31,156.85L796.46,156.87L796.62,156.88L796.77,156.90L796.92,156.92L797.07,156.93L797.22,157.04L797.37,157.18L797.53,157.32L797.68,157.46L797.83,157.60L797.98,157.74L798.13,157.88L798.28,158.03L798.44,158.17L798.59,158.31L798.74,158.45L798.89,158.59L799.04,158.73L799.20,158.87L799.35,159.01L799.50,158.91L799.65,158.72L799.80,158.54L799.95,158.35L800.11,158.16L800.26,157.97L800.41,157.78L800.56,157.60L800.71,157.41L800.86,157.22L801.02,157.03L801.17,156.84L801.32,156.66L801.47,156.47L801.62,156.28L801.77,156.09L801.93,155.90L802.08,155.76L802.23,155.74L802.38,155.73L802.53,155.71L802.68,155.70L802.84,155.68L802.99,155.67L803.14,155.65L803.29,155.64L803.44,155.62L803.59,155.61L803.75,155.59L803.90,155.58L804.05,155.57L804.20,155.55L804.35,155.54L804.51,155.52L804.66,155.51L804.81,155.49L804.96,155.48L805.11,155.46L805.26,155.45L805.42,155.43L805.57,155.42L805.72,155.40L805.87,155.39L806.02,155.37L806.17,155.36L806.33,155.34L806.48,155.33L806.63,155.31L806.78,155.30L806.93,155.28L807.08,155.27L807.24,155.25L807.39,155.24L807.54,155.22L807.69,155.21L807.84,155.19L807.99,155.18L808.15,155.16L808.30,155.15L808.45,155.13L808.60,155.12L808.75,155.11L808.91,155.09L809.06,155.08L809.21,155.06L809.36,155.05L809.51,155.03L809.66,155.02L809.82,155.00L809.97,154.99L810.12,154.97L810.27,154.96L810.42,154.94L810.57,154.93L810.73,154.91L810.88,154.90L811.03,154.88L811.18,154.87L811.33,154.85L811.48,154.84L811.64,154.82L811.79,154.81L811.94,154.79L812.09,154.78L812.24,154.77L812.39,154.75L812.55,154.74L812.70,154.72L812.85,154.71L813.00,154.69L813.15,154.68L813.30,154.66L813.46,154.65L813.61,154.63L813.76,154.62L813.91,154.60L814.06,154.59L814.22,154.57L814.37,154.56L814.52,154.54L814.67,154.53L814.82,154.51L814.97,154.50L815.13,154.49L815.28,154.47L815.43,154.46L815.58,154.44L815.73,154.43L815.88,154.41L816.04,154.40L816.19,154.38L816.34,154.37L816.49,154.35L816.64,154.34L816.79,154.32L816.95,154.31L817.10,154.29L817.25,154.28L817.40,154.26L817.55,154.25L817.70,154.23L817.86,154.22L818.01,154.20L818.16,154.19L818.31,154.18L818.46,154.16L818.62,154.15L818.77,154.13L818.92,154.12L819.07,154.10L819.22,154.09L819.37,154.07L819.53,154.06L819.68,154.04L819.83,154.03L819.98,154.01L820.13,154.00L820.28,153.98L820.44,153.97L820.59,153.95L820.74,153.94L820.89,153.92L821.04,153.91L821.19,153.89L821.35,153.88L821.50,153.87L821.65,153.85L821.80,153.84L821.95,153.82L822.10,153.81L822.26,153.79L822.41,153.78L822.56,153.76L822.71,153.75L822.86,153.73L823.01,153.72L823.17,153.70L823.32,153.69L823.47,153.67L823.62,153.66L823.77,153.64L823.93,153.62L824.08,153.60L824.23,153.59L824.38,153.57L824.53,153.55L824.68,153.53L824.84,153.51L824.99,153.49L825.14,153.47L825.29,153.45L825.44,153.44L825.59,153.42L825.75,153.85L825.90,154.39L826.05,154.94L826.20,155.49L826.35,156.04L826.50,156.59L826.66,157.14L826.81,157.44L826.96,157.14L827.11,156.84L827.26,156.54L827.41,156.25L827.57,155.95L827.72,155.65L827.87,155.35L828.02,155.30L828.17,155.31L828.32,155.32L828.48,155.33L828.63,155.35L828.78,155.36L828.93,155.37L829.08,155.38L829.24,155.39L829.39,155.40L829.54,155.41L829.69,155.42L829.84,155.44L829.99,155.45L830.15,155.46L830.30,155.47L830.45,155.48L830.60,155.49L830.75,155.50L830.90,155.52L831.06,155.53L831.21,155.54L831.36,155.55L831.51,155.56L831.66,155.57L831.81,155.58L831.97,155.59L832.12,155.61L832.27,155.62L832.42,155.63L832.57,155.64L832.72,155.65L832.88,155.66L833.03,155.67L833.18,155.68L833.33,155.70L833.48,155.71L833.64,155.72L833.79,155.73L833.94,155.74L834.09,155.75L834.24,155.76L834.39,155.77L834.55,155.79L834.70,155.80L834.85,155.81L835.00,155.82L835.15,155.83L835.30,155.84L835.46,155.85L835.61,155.86L835.76,155.88L835.91,155.89L836.06,155.90L836.21,155.91L836.37,155.92L836.52,155.93L836.67,155.94L836.82,155.95L836.97,155.97L837.12,155.98L837.28,155.99L837.43,156.00L837.58,156.02L837.73,156.04L837.88,156.06L838.03,156.08L838.19,156.11L838.34,156.13L838.49,156.15L838.64,156.17L838.79,156.19L838.95,156.21L839.10,156.23L839.25,156.25L839.40,156.27L839.55,156.29L839.70,156.31L839.86,156.33L840.01,156.35L840.16,156.37L840.31,156.39L840.46,156.41L840.61,156.43L840.77,156.45L840.92,156.47L841.07,156.49L841.22,156.51L841.37,156.53L841.52,156.55L841.68,156.58L841.83,156.60L841.98,156.62L842.13,156.64L842.28,156.66L842.43,156.68L842.59,156.70L842.74,156.72L842.89,156.74L843.04,156.76L843.19,156.78L843.34,156.80L843.50,156.82L843.65,156.84L843.80,156.86L843.95,156.88L844.10,156.90L844.26,156.92L844.41,156.98L844.56,157.12L844.71,157.26L844.86,157.41L845.01,157.55L845.17,157.69L845.32,157.83L845.47,157.97L845.62,158.11L845.77,158.25L845.92,158.39L846.08,158.53L846.23,158.67L846.38,158.82L846.53,158.96L846.68,158.99L846.83,158.80L846.99,158.61L847.14,158.42L847.29,158.23L847.44,158.05L847.59,157.86L847.74,157.67L847.90,157.48L848.05,157.29L848.20,157.11L848.35,156.92L848.50,156.73L848.66,156.54L848.81,156.36L848.96,156.17L849.11,155.98L849.26,155.79L849.41,155.75L849.57,155.73L849.72,155.72L849.87,155.70L850.02,155.69L850.17,155.67L850.32,155.66L850.48,155.65L850.63,155.63L850.78,155.62L850.93,155.60L851.08,155.59L851.23,155.57L851.39,155.56L851.54,155.54L851.69,155.53L851.84,155.51L851.99,155.50L852.14,155.48L852.30,155.47L852.45,155.45L852.60,155.44L852.75,155.42L852.90,155.41L853.05,155.39L853.21,155.38L853.36,155.36L853.51,155.35L853.66,155.33L853.81,155.32L853.97,155.30L854.12,155.29L854.27,155.27L854.42,155.26L854.57,155.24L854.72,155.23L854.88,155.21L855.03,155.20L855.18,155.19L855.33,155.17L855.48,155.16L855.63,155.14L855.79,155.13L855.94,155.11L856.09,155.10L856.24,155.08L856.39,155.07L856.54,155.05L856.70,155.04L856.85,155.02L857.00,155.01L857.15,154.99L857.30,154.98L857.45,154.97L857.61,154.95L857.76,154.94L857.91,154.92L858.06,154.91L858.21,154.89L858.36,154.88L858.52,154.87L858.67,154.85L858.82,154.84L858.97,154.82L859.12,154.81L859.28,154.79L859.43,154.78L859.58,154.77L859.73,154.75L859.88,154.74L860.03,154.72L860.19,154.71L860.34,154.69L860.49,154.68L860.64,154.67L860.79,154.65L860.94,154.64L861.10,154.62L861.25,154.61L861.40,154.59L861.55,154.58L861.70,154.57L861.85,154.55L862.01,154.54L862.16,154.52L862.31,154.51L862.46,154.49L862.61,154.48L862.76,154.47L862.92,154.45L863.07,154.44L863.22,154.42L863.37,154.41L863.52,154.39L863.68,154.38L863.83,154.36L863.98,154.35L864.13,154.34L864.28,154.32L864.43,154.31L864.59,154.29L864.74,154.28L864.89,154.26L865.04,154.25L865.19,154.24L865.34,154.22L865.50,154.21L865.65,154.19L865.80,154.18L865.95,154.16L866.10,154.15L866.25,154.14L866.41,154.12L866.56,154.11L866.71,154.09L866.86,154.08L867.01,154.06L867.16,154.05L867.32,154.04L867.47,154.02L867.62,154.01L867.77,153.99L867.92,153.98L868.07,153.96L868.23,153.95L868.38,153.94L868.53,153.92L868.68,153.91L868.83,153.89L868.99,153.88L869.14,153.86L869.29,153.85L869.44,153.84L869.59,153.82L869.74,153.81L869.90,153.79L870.05,153.78L870.20,153.76L870.35,153.75L870.50,153.74L870.65,153.72L870.81,153.71L870.96,153.69L871.11,153.68L871.26,153.66L871.41,153.65L871.56,153.63L871.72,153.61L871.87,153.59L872.02,153.57L872.17,153.56L872.32,153.54L872.47,153.52L872.63,153.50L872.78,153.48L872.93,153.46L873.08,153.44L873.23,153.42L873.38,153.63L873.54,154.18L873.69,154.73L873.84,155.27L873.99,155.82L874.14,156.37L874.30,156.92L874.45,157.47L874.60,157.26L874.75,156.96L874.90,156.66L875.05,156.36L875.21,156.07L875.36,155.77L875.51,155.47L875.66,155.30L875.81,155.31L875.96,155.32L876.12,155.33L876.27,155.34L876.42,155.35L876.57,155.36L876.72,155.38L876.87,155.39L877.03,155.40L877.18,155.41L877.33,155.42L877.48,155.43L877.63,155.44L877.78,155.45L877.94,155.47L878.09,155.48L878.24,155.49L878.39,155.50L878.54,155.51L878.70,155.52L878.85,155.53L879.00,155.54L879.15,155.56L879.30,155.57L879.45,155.58L879.61,155.59L879.76,155.60L879.91,155.61L880.06,155.62L880.21,155.63L880.36,155.65L880.52,155.66L880.67,155.67L880.82,155.68L880.97,155.69L881.12,155.70L881.27,155.71L881.43,155.72L881.58,155.74L881.73,155.75L881.88,155.76L882.03,155.77L882.18,155.78L882.34,155.79L882.49,155.80L882.64,155.82L882.79,155.83L882.94,155.84L883.09,155.85L883.25,155.86L883.40,155.87L883.55,155.88L883.70,155.89L883.85,155.91L884.01,155.92L884.16,155.93L884.31,155.94L884.46,155.95L884.61,155.96L884.76,155.97L884.92,155.98L885.07,156.00L885.22,156.02L885.37,156.04L885.52,156.06L885.67,156.08L885.83,156.10L885.98,156.12L886.13,156.14L886.28,156.16L886.43,156.18L886.58,156.20L886.74,156.22L886.89,156.24L887.04,156.26L887.19,156.28L887.34,156.30L887.49,156.33L887.65,156.35L887.80,156.37L887.95,156.39L888.10,156.41L888.25,156.43L888.40,156.45L888.56,156.47L888.71,156.49L888.86,156.51L889.01,156.53L889.16,156.55L889.32,156.57L889.47,156.59L889.62,156.61L889.77,156.64L889.92,156.66L890.07,156.68L890.23,156.70L890.38,156.72L890.53,156.74L890.68,156.76L890.83,156.78L890.98,156.80L891.14,156.82L891.29,156.84L891.44,156.86L891.59,156.88L891.74,156.90L891.89,156.92L892.05,157.00L892.20,157.14L892.35,157.28L892.50,157.42L892.65,157.56L892.80,157.70L892.96,157.84L893.11,157.98L893.26,158.13L893.41,158.27L893.56,158.41L893.72,158.55L893.87,158.69L894.02,158.83L894.17,158.97L894.32,158.97L894.47,158.78L894.63,158.59L894.78,158.40L894.93,158.22L895.08,158.03L895.23,157.84L895.38,157.65L895.54,157.46L895.69,157.28L895.84,157.09L895.99,156.90L896.14,156.71L896.29,156.52L896.45,156.34L896.60,156.15L896.75,155.96L896.90,155.77L897.05,155.75L897.20,155.73L897.36,155.72L897.51,155.70L897.66,155.69L897.81,155.67L897.96,155.66L898.11,155.64L898.27,155.63L898.42,155.61L898.57,155.60L898.72,155.58L898.87,155.57L899.03,155.55L899.18,155.54L899.33,155.53L899.48,155.51L899.63,155.50L899.78,155.48L899.94,155.47L900.09,155.45L900.24,155.44L900.39,155.42L900.54,155.41L900.69,155.39L900.85,155.38L901.00,155.36L901.15,155.35L901.30,155.33L901.45,155.32L901.60,155.30L901.76,155.29L901.91,155.27L902.06,155.26L902.21,155.24L902.36,155.23L902.51,155.21L902.67,155.20L902.82,155.18L902.97,155.17L903.12,155.15L903.27,155.14L903.42,155.12L903.58,155.11L903.73,155.09L903.88,155.08L904.03,155.07L904.18,155.05L904.34,155.04L904.49,155.02L904.64,155.01L904.79,154.99L904.94,154.98L905.09,154.96L905.25,154.95L905.40,154.93L905.55,154.92L905.70,154.90L905.85,154.89L906.00,154.87L906.16,154.86L906.31,154.84L906.46,154.83L906.61,154.82L906.76,154.80L906.91,154.79L907.07,154.77L907.22,154.76L907.37,154.74L907.52,154.73L907.67,154.71L907.82,154.70L907.98,154.68L908.13,154.67L908.28,154.65L908.43,154.64L908.58,154.62L908.74,154.61L908.89,154.60L909.04,154.58L909.19,154.57L909.34,154.55L909.49,154.54L909.65,154.52L909.80,154.51L909.95,154.49L910.10,154.48L910.25,154.46L910.40,154.45L910.56,154.43L910.71,154.42L910.86,154.40L911.01,154.39L911.16,154.37L911.31,154.36L911.47,154.35L911.62,154.33L911.77,154.32L911.92,154.30L912.07,154.29L912.22,154.27L912.38,154.26L912.53,154.24L912.68,154.23L912.83,154.21L912.98,154.20L913.13,154.18L913.29,154.17L913.44,154.15L913.59,154.14L913.74,154.13L913.89,154.11L914.05,154.10L914.20,154.08L914.35,154.07L914.50,154.05L914.65,154.04L914.80,154.02L914.96,154.01L915.11,153.99L915.26,153.98L915.41,153.96L915.56,153.95L915.71,153.93L915.87,153.92L916.02,153.90L916.17,153.89L916.32,153.88L916.47,153.86L916.62,153.85L916.78,153.83L916.93,153.82L917.08,153.80L917.23,153.79L917.38,153.77L917.53,153.76L917.69,153.74L917.84,153.73L917.99,153.71L918.14,153.70L918.29,153.68L918.44,153.67L918.60,153.66L918.75,153.64L918.90,153.62L919.05,153.60L919.20,153.58L919.36,153.56L919.51,153.54L919.66,153.53L919.81,153.51L919.96,153.49L920.11,153.47L920.27,153.45L920.42,153.43L920.57,153.41L920.72,153.96L920.87,154.51L921.02,155.06L921.18,155.61L921.33,156.15L921.48,156.70L921.63,157.25L921.78,157.37L921.93,157.08L922.09,156.78L922.24,156.48L922.39,156.18L922.54,155.89L922.69,155.59L922.84,155.29L923.00,155.30L923.15,155.31L923.30,155.33L923.45,155.34L923.60,155.35L923.76,155.36L923.91,155.37L924.06,155.38L924.21,155.39L924.36,155.40L924.51,155.42L924.67,155.43L924.82,155.44L924.97,155.45L925.12,155.46L925.27,155.47L925.42,155.48L925.58,155.49L925.73,155.51L925.88,155.52L926.03,155.53L926.18,155.54L926.33,155.55L926.49,155.56L926.64,155.57L926.79,155.59L926.94,155.60L927.09,155.61L927.24,155.62L927.40,155.63L927.55,155.64L927.70,155.65L927.85,155.66L928.00,155.68L928.15,155.69L928.31,155.70L928.46,155.71L928.61,155.72L928.76,155.73L928.91,155.74L929.07,155.75L929.22,155.77L929.37,155.78L929.52,155.79L929.67,155.80L929.82,155.81L929.98,155.82L930.13,155.83L930.28,155.84L930.43,155.86L930.58,155.87L930.73,155.88L930.89,155.89L931.04,155.90L931.19,155.91L931.34,155.92L931.49,155.93L931.64,155.95L931.80,155.96L931.95,155.97L932.10,155.98L932.25,155.99L932.40,156.01L932.55,156.03L932.71,156.05L932.86,156.07L933.01,156.09L933.16,156.11L933.31,156.13L933.46,156.15L933.62,156.17L933.77,156.18L933.92,156.20L934.07,156.22L934.22,156.24L934.38,156.26L934.53,156.28L934.68,156.30L934.83,156.32L934.98,156.34L935.13,156.36L935.29,156.38L935.44,156.40L935.59,156.42L935.74,156.44L935.89,156.46L936.04,156.48L936.20,156.50L936.35,156.52L936.50,156.54L936.65,156.56L936.80,156.58L936.95,156.60L937.11,156.62L937.26,156.64L937.41,156.66L937.56,156.68L937.71,156.70L937.86,156.72L938.02,156.74L938.17,156.76L938.32,156.78L938.47,156.80L938.62,156.82L938.78,156.84L938.93,156.86L939.08,156.88L939.23,156.90L939.38,156.92L939.53,156.94L939.69,157.08L939.84,157.22L939.99,157.36L940.14,157.51L940.29,157.65L940.44,157.79L940.60,157.93L940.75,158.07L940.90,158.21L941.05,158.35L941.20,158.49L941.35,158.63L941.51,158.77L941.66,158.92L941.81,159.04L941.96,158.85L942.11,158.67L942.26,158.48L942.42,158.29L942.57,158.10L942.72,157.91L942.87,157.73L943.02,157.54L943.17,157.35L943.33,157.16L943.48,156.97L943.63,156.79L943.78,156.60L943.93,156.41L944.09,156.22L944.24,156.03L944.39,155.85L944.54,155.75L944.69,155.74L944.84,155.72L945.00,155.71L945.15,155.69L945.30,155.68L945.45,155.66L945.60,155.65L945.75,155.63L945.91,155.62L946.06,155.61L946.21,155.59L946.36,155.58L946.51,155.56L946.66,155.55L946.82,155.53L946.97,155.52L947.12,155.50L947.27,155.49L947.42,155.47L947.57,155.46L947.73,155.44L947.88,155.43L948.03,155.41L948.18,155.40L948.33,155.38L948.48,155.37L948.64,155.35L948.79,155.34L948.94,155.32L949.09,155.31L949.24,155.29L949.40,155.28L949.55,155.26L949.70,155.25L949.85,155.23L950.00,155.22L950.15,155.20L950.31,155.19L950.46,155.17L950.61,155.16L950.76,155.15L950.91,155.13L951.06,155.12L951.22,155.10L951.37,155.09L951.52,155.07L951.67,155.06L951.82,155.04L951.97,155.03L952.13,155.01L952.28,155.00L952.43,154.98L952.58,154.97L952.73,154.95L952.88,154.94L953.04,154.92L953.19,154.91L953.34,154.89L953.49,154.88L953.64,154.86L953.80,154.85L953.95,154.83L954.10,154.82L954.25,154.81L954.40,154.79L954.55,154.78L954.71,154.76L954.86,154.75L955.01,154.73L955.16,154.72L955.31,154.70L955.46,154.69L955.62,154.67L955.77,154.66L955.92,154.64L956.07,154.63L956.22,154.61L956.37,154.60L956.53,154.58L956.68,154.57L956.83,154.55L956.98,154.54L957.13,154.52L957.28,154.51L957.44,154.50L957.59,154.48L957.74,154.47L957.89,154.45L958.04,154.44L958.19,154.42L958.35,154.41L958.50,154.39L958.65,154.38L958.80,154.36L958.95,154.35L959.11,154.33L959.26,154.32L959.41,154.30L959.56,154.29L959.71,154.27L959.86,154.26L960.02,154.24L960.17,154.23L960.32,154.21L960.47,154.20L960.62,154.19L960.77,154.17L960.93,154.16L961.08,154.14L961.23,154.13L961.38,154.11L961.53,154.10L961.68,154.08L961.84,154.07L961.99,154.05L962.14,154.04L962.29,154.02L962.44,154.01L962.59,153.99L962.75,153.98L962.90,153.96L963.05,153.95L963.20,153.93L963.35,153.92L963.50,153.90L963.66,153.89L963.81,153.88L963.96,153.86L964.11,153.85L964.26,153.83L964.42,153.82L964.57,153.80L964.72,153.79L964.87,153.77L965.02,153.76L965.17,153.74L965.33,153.73L965.48,153.71L965.63,153.70L965.78,153.68L965.93,153.67L966.08,153.65L966.24,153.64L966.39,153.62L966.54,153.60L966.69,153.58L966.84,153.56L966.99,153.54L967.15,153.52L967.30,153.51L967.45,153.49L967.60,153.47L967.75,153.45L967.90,153.43L968.06,153.47L968.21,154.02L968.36,154.57L968.51,155.11L968.66,155.66L968.82,156.21L968.97,156.76L969.12,157.31L969.27,157.34L969.42,157.05L969.57,156.75L969.73,156.45L969.88,156.15L970.03,155.85L970.18,155.56L970.33,155.29L970.48,155.30L970.64,155.32L970.79,155.33L970.94,155.34L971.09,155.35L971.24,155.36L971.39,155.37L971.55,155.38L971.70,155.39L971.85,155.41L972.00,155.42L972.15,155.43L972.30,155.44L972.46,155.45L972.61,155.46L972.76,155.47L972.91,155.48L973.06,155.50L973.21,155.51L973.37,155.52L973.52,155.53L973.67,155.54L973.82,155.55L973.97,155.56L974.13,155.58L974.28,155.59L974.43,155.60L974.58,155.61L974.73,155.62L974.88,155.63L975.04,155.64L975.19,155.65L975.34,155.67L975.49,155.68L975.64,155.69L975.79,155.70L975.95,155.71L976.10,155.72L976.25,155.73L976.40,155.74L976.55,155.76L976.70,155.77L976.86,155.78L977.01,155.79L977.16,155.80L977.31,155.81L977.46,155.82L977.61,155.83L977.77,155.85L977.92,155.86L978.07,155.87L978.22,155.88L978.37,155.89L978.52,155.90L978.68,155.91L978.83,155.92L978.98,155.94L979.13,155.95L979.28,155.96L979.44,155.97L979.59,155.98L979.74,155.99L979.89,156.01L980.04,156.03L980.19,156.05L980.35,156.07L980.50,156.09L980.65,156.11L980.80,156.13L980.95,156.15L981.10,156.17L981.26,156.19L981.41,156.21L981.56,156.23L981.71,156.25L981.86,156.27L982.01,156.29L982.17,156.31L982.32,156.33L982.47,156.35L982.62,156.37L982.77,156.39L982.92,156.41L983.08,156.43L983.23,156.45L983.38,156.47L983.53,156.49L983.68,156.51L983.84,156.53L983.99,156.55L984.14,156.58L984.29,156.60L984.44,156.62L984.59,156.64L984.75,156.66L984.90,156.68L985.05,156.70L985.20,156.72L985.35,156.74L985.50,156.76L985.66,156.78L985.81,156.80L985.96,156.82L986.11,156.84L986.26,156.86L986.41,156.88L986.57,156.90L986.72,156.92L986.87,156.96L987.02,157.10L987.17,157.24L987.32,157.38L987.48,157.52L987.63,157.66L987.78,157.80L987.93,157.94L988.08,158.08L988.23,158.23L988.39,158.37L988.54,158.51L988.69,158.65L988.84,158.79L988.99,158.93L989.15,159.02L989.30,158.83L989.45,158.65L989.60,158.46L989.75,158.27L989.90,158.08L990.06,157.89L990.21,157.71L990.36,157.52L990.51,157.33L990.66,157.14L990.81,156.95L990.97,156.77L991.12,156.58L991.27,156.39L991.42,156.20L991.57,156.01L991.72,155.83L991.88,155.75L992.03,155.74L992.18,155.72L992.33,155.71L992.48,155.69L992.63,155.68L992.79,155.66L992.94,155.65L993.09,155.63L993.24,155.62L993.39,155.60L993.54,155.59L993.70,155.57L993.85,155.56L994.00,155.54L994.15,155.53L994.30,155.51L994.46,155.50L994.61,155.48L994.76,155.47L994.91,155.46L995.06,155.44L995.21,155.43L995.37,155.41L995.52,155.40L995.67,155.38L995.82,155.37L995.97,155.35L996.12,155.34L996.28,155.32L996.43,155.31L996.58,155.29L996.73,155.28L996.88,155.26L997.03,155.25L997.19,155.23L997.34,155.22L997.49,155.20L997.64,155.19L997.79,155.17L997.94,155.16L998.10,155.14L998.25,155.13L998.40,155.11L998.55,155.10L998.70,155.08L998.86,155.07L999.01,155.05L999.16,155.04L999.31,155.03L999.46,155.01L999.61,155.00L999.77,154.98L999.92,154.97L1000.07,154.95L1000.22,154.94L1000.37,154.93L1000.52,154.91L1000.68,154.90L1000.83,154.88L1000.98,154.87L1001.13,154.85L1001.28,154.84L1001.43,154.83L1001.59,154.81L1001.74,154.80L1001.89,154.78L1002.04,154.77L1002.19,154.75L1002.34,154.74L1002.50,154.73L1002.65,154.71L1002.80,154.70L1002.95,154.68L1003.10,154.67L1003.25,154.65L1003.41,154.64L1003.56,154.63L1003.71,154.61L1003.86,154.60L1004.01,154.58L1004.17,154.57L1004.32,154.55L1004.47,154.54L1004.62,154.53L1004.77,154.51L1004.92,154.50L1005.08,154.48L1005.23,154.47L1005.38,154.45L1005.53,154.44L1005.68,154.42L1005.83,154.41L1005.99,154.40L1006.14,154.38L1006.29,154.37L1006.44,154.35L1006.59,154.34L1006.74,154.32L1006.90,154.31L1007.05,154.30L1007.20,154.28L1007.35,154.27L1007.50,154.25L1007.65,154.24L1007.81,154.22L1007.96,154.21L1008.11,154.20L1008.26,154.18L1008.41,154.17L1008.56,154.15L1008.72,154.14L1008.87,154.12L1009.02,154.11L1009.17,154.10L1009.32,154.08L1009.48,154.07L1009.63,154.05L1009.78,154.04L1009.93,154.02L1010.08,154.01L1010.23,154.00L1010.39,153.98L1010.54,153.97L1010.69,153.95L1010.84,153.94L1010.99,153.92L1011.14,153.91L1011.30,153.90L1011.45,153.88L1011.60,153.87L1011.75,153.85L1011.90,153.84L1012.05,153.82L1012.21,153.81L1012.36,153.80L1012.51,153.78L1012.66,153.77L1012.81,153.75L1012.96,153.74L1013.12,153.72L1013.27,153.71L1013.42,153.70L1013.57,153.68L1013.72,153.67L1013.88,153.65L1014.03,153.63L1014.18,153.62L1014.33,153.60L1014.48,153.58L1014.63,153.56L1014.79,153.54L1014.94,153.52L1015.09,153.50L1015.24,153.48L1015.39,153.47L1015.54,153.45L1015.70,153.43L1015.85,153.53L1016.00,154.08L1016.15,154.62L1016.30,155.17L1016.45,155.72L1016.61,156.27L1016.76,156.82L1016.91,157.36L1017.06,157.31L1017.21,157.01L1017.36,156.72L1017.52,156.42L1017.67,156.12L1017.82,155.82L1017.97,155.53L1018.12,155.29L1018.27,155.31L1018.43,155.32L1018.58,155.33L1018.73,155.34L1018.88,155.35L1019.03,155.36L1019.19,155.37L1019.34,155.38L1019.49,155.40L1019.64,155.41L1019.79,155.42L1019.94,155.43L1020.10,155.44L1020.25,155.45L1020.40,155.46L1020.55,155.47L1020.70,155.49L1020.85,155.50L1021.01,155.51L1021.16,155.52L1021.31,155.53L1021.46,155.54L1021.61,155.55L1021.76,155.56L1021.92,155.58L1022.07,155.59L1022.22,155.60L1022.37,155.61L1022.52,155.62L1022.67,155.63L1022.83,155.64L1022.98,155.66L1023.13,155.67L1023.28,155.68L1023.43,155.69L1023.58,155.70L1023.74,155.71L1023.89,155.72L1024.04,155.73L1024.19,155.75L1024.34,155.76L1024.50,155.77L1024.65,155.78L1024.80,155.79L1024.95,155.80L1025.10,155.81L1025.25,155.82L1025.41,155.84L1025.56,155.85L1025.71,155.86L1025.86,155.87L1026.01,155.88L1026.16,155.89L1026.32,155.90L1026.47,155.91L1026.62,155.93L1026.77,155.94L1026.92,155.95L1027.07,155.96L1027.23,155.97L1027.38,155.98L1027.53,155.99L1027.68,156.01L1027.83,156.03L1027.98,156.05L1028.14,156.08L1028.29,156.10L1028.44,156.12L1028.59,156.14L1028.74,156.16L1028.90,156.18L1029.05,156.20L1029.20,156.23L1029.35,156.25L1029.50,156.27L1029.65,156.29L1029.81,156.31L1029.96,156.33L1030.11,156.35L1030.26,156.38L1030.41,156.40L1030.56,156.42L1030.72,156.44L1030.87,156.46L1031.02,156.48L1031.17,156.50L1031.32,156.52L1031.47,156.55L1031.63,156.57L1031.78,156.59L1031.93,156.61L1032.08,156.63L1032.23,156.65L1032.38,156.67L1032.54,156.70L1032.69,156.72L1032.84,156.74L1032.99,156.76L1033.14,156.78L1033.29,156.80L1033.45,156.82L1033.60,156.85L1033.75,156.87L1033.90,156.89L1034.05,156.91L1034.21,156.93L1034.36,157.04L1034.51,157.18L1034.66,157.32L1034.81,157.46L1034.96,157.61L1035.12,157.75L1035.27,157.89L1035.42,158.03L1035.57,158.17L1035.72,158.31L1035.87,158.45L1036.03,158.59L1036.18,158.73L1036.33,158.87L1036.48,159.02L1036.63,158.91L1036.78,158.72L1036.94,158.53L1037.09,158.34L1037.24,158.16L1037.39,157.97L1037.54,157.78L1037.69,157.59L1037.85,157.40L1038.00,157.22L1038.15,157.03L1038.30,156.84L1038.45,156.65L1038.61,156.46L1038.76,156.28L1038.91,156.09L1039.06,155.90L1039.21,155.76L1039.36,155.74L1039.52,155.73L1039.67,155.71L1039.82,155.70L1039.97,155.68L1040.12,155.67L1040.27,155.65L1040.43,155.64L1040.58,155.62L1040.73,155.61L1040.88,155.59L1041.03,155.58L1041.18,155.56L1041.34,155.55L1041.49,155.54L1041.64,155.52L1041.79,155.51L1041.94,155.49L1042.09,155.48L1042.25,155.46L1042.40,155.45L1042.55,155.43L1042.70,155.42L1042.85,155.40L1043.00,155.39L1043.16,155.37L1043.31,155.36L1043.46,155.34L1043.61,155.33L1043.76,155.31L1043.92,155.30L1044.07,155.28L1044.22,155.27L1044.37,155.25L1044.52,155.24L1044.67,155.22L1044.83,155.21L1044.98,155.19L1045.13,155.18L1045.28,155.16L1045.43,155.15L1045.58,155.13L1045.74,155.12L1045.89,155.10L1046.04,155.09L1046.19,155.08L1046.34,155.06L1046.49,155.05L1046.65,155.03L1046.80,155.02L1046.95,155.00L1047.10,154.99L1047.25,154.97L1047.40,154.96L1047.56,154.95L1047.71,154.93L1047.86,154.92L1048.01,154.90L1048.16,154.89L1048.31,154.87L1048.47,154.86L1048.62,154.84L1048.77,154.83L1048.92,154.82L1049.07,154.80L1049.23,154.79L1049.38,154.77L1049.53,154.76L1049.68,154.74L1049.83,154.73L1049.98,154.72L1050.14,154.70L1050.29,154.69L1050.44,154.67L1050.59,154.66L1050.74,154.64L1050.89,154.63L1051.05,154.61L1051.20,154.60L1051.35,154.59L1051.50,154.57L1051.65,154.56L1051.80,154.54L1051.96,154.53L1052.11,154.51L1052.26,154.50L1052.41,154.48L1052.56,154.47L1052.71,154.46L1052.87,154.44L1053.02,154.43L1053.17,154.41L1053.32,154.40L1053.47,154.38L1053.63,154.37L1053.78,154.36L1053.93,154.34L1054.08,154.33L1054.23,154.31L1054.38,154.30L1054.54,154.28L1054.69,154.27L1054.84,154.25L1054.99,154.24L1055.14,154.23L1055.29,154.21L1055.45,154.20L1055.60,154.18L1055.75,154.17L1055.90,154.15L1056.05,154.14L1056.20,154.13L1056.36,154.11L1056.51,154.10L1056.66,154.08L1056.81,154.07L1056.96,154.05L1057.11,154.04L1057.27,154.02L1057.42,154.01L1057.57,154.00L1057.72,153.98L1057.87,153.97L1058.02,153.95L1058.18,153.94L1058.33,153.92L1058.48,153.91L1058.63,153.90L1058.78,153.88L1058.94,153.87L1059.09,153.85L1059.24,153.84L1059.39,153.82L1059.54,153.81L1059.69,153.79L1059.85,153.78L1060.00,153.77L1060.15,153.75L1060.30,153.74L1060.45,153.72L1060.60,153.71L1060.76,153.69L1060.91,153.68L1061.06,153.67L1061.21,153.65L1061.36,153.63L1061.51,153.61L1061.67,153.60L1061.82,153.58L1061.97,153.56L1062.12,153.54L1062.27,153.52L1062.42,153.50L1062.58,153.48L1062.73,153.46L1062.88,153.44L1063.03,153.43L1063.18,153.58L1063.33,154.13L1063.49,154.68L1063.64,155.23L1063.79,155.78L1063.94,156.33L1064.09,156.87L1064.25,157.42L1064.40,157.28L1064.55,156.98L1064.70,156.69L1064.85,156.39L1065.00,156.09L1065.16,155.79L1065.31,155.50L1065.46,155.30L1065.61,155.31L1065.76,155.32L1065.91,155.33L1066.07,155.34L1066.22,155.35L1066.37,155.36L1066.52,155.37L1066.67,155.39L1066.82,155.40L1066.98,155.41L1067.13,155.42L1067.28,155.43L1067.43,155.44L1067.58,155.45L1067.73,155.46L1067.89,155.48L1068.04,155.49L1068.19,155.50L1068.34,155.51L1068.49,155.52L1068.65,155.53L1068.80,155.54L1068.95,155.55L1069.10,155.57L1069.25,155.58L1069.40,155.59L1069.56,155.60L1069.71,155.61L1069.86,155.62L1070.01,155.63L1070.16,155.65L1070.31,155.66L1070.47,155.67L1070.62,155.68L1070.77,155.69L1070.92,155.70L1071.07,155.71L1071.22,155.72L1071.38,155.74L1071.53,155.75L1071.68,155.76L1071.83,155.77L1071.98,155.78L1072.13,155.79L1072.29,155.80L1072.44,155.81L1072.59,155.83L1072.74,155.84L1072.89,155.85L1073.04,155.86L1073.20,155.87L1073.35,155.88L1073.50,155.89L1073.65,155.90L1073.80,155.92L1073.96,155.93L1074.11,155.94L1074.26,155.95L1074.41,155.96L1074.56,155.97L1074.71,155.98L1074.87,155.99L1075.02,156.01L1075.17,156.03L1075.32,156.05L1075.47,156.06L1075.62,156.08L1075.78,156.10L1075.93,156.11L1076.08,156.13L1076.23,156.15L1076.38,156.16L1076.53,156.18L1076.69,156.20L1076.84,156.22L1076.99,156.23L1077.14,156.25L1077.29,156.27L1077.44,156.28L1077.60,156.30L1077.75,156.32L1077.90,156.34L1078.05,156.35L1078.20,156.37L1078.35,156.39L1078.51,156.40L1078.66,156.42L1078.81,156.44L1078.96,156.46L1079.11,156.47L1079.27,156.49L1079.42,156.51L1079.57,156.52L1079.72,156.54L1079.87,156.56L1080.02,156.57L1080.18,156.59L1080.33,156.61L1080.48,156.63L1080.63,156.64L1080.78,156.66L1080.93,156.68L1081.09,156.69L1081.24,156.71L1081.39,156.73L1081.54,156.75L1081.69,156.76L1081.84,156.78L1082.00,156.80L1082.15,156.81L1082.30,156.83L1082.45,156.85L1082.60,156.87L1082.75,156.88L1082.91,156.90L1083.06,156.92L1083.21,156.93L1083.36,157.06L1083.51,157.20L1083.67,157.34L1083.82,157.48L1083.97,157.62L1084.12,157.76L1084.27,157.90L1084.42,158.04L1084.58,158.18L1084.73,158.33L1084.88,158.47L1085.03,158.61L1085.18,158.75L1085.33,158.89L1085.49,159.03L1085.64,158.89L1085.79,158.70L1085.94,158.51L1086.09,158.32L1086.24,158.14L1086.40,157.95L1086.55,157.76L1086.70,157.57L1086.85,157.38L1087.00,157.20L1087.15,157.01L1087.31,156.82L1087.46,156.63L1087.61,156.44L1087.76,156.26L1087.91,156.07L1088.06,155.88L1088.22,155.76L1088.37,155.74L1088.52,155.73L1088.67,155.71L1088.82,155.70L1088.98,155.68L1089.13,155.67L1089.28,155.65L1089.43,155.64L1089.58,155.62L1089.73,155.61L1089.89,155.59L1090.04,155.58L1090.19,155.56L1090.34,155.55L1090.49,155.53L1090.64,155.52L1090.80,155.50L1090.95,155.49L1091.10,155.47L1091.25,155.46L1091.40,155.44L1091.55,155.43L1091.71,155.41L1091.86,155.40L1092.01,155.39L1092.16,155.37L1092.31,155.36L1092.46,155.34L1092.62,155.33L1092.77,155.31L1092.92,155.30L1093.07,155.28L1093.22,155.27L1093.37,155.25L1093.53,155.24L1093.68,155.22L1093.83,155.21L1093.98,155.19L1094.13,155.18L1094.29,155.16L1094.44,155.15L1094.59,155.13L1094.74,155.12L1094.89,155.10L1095.04,155.09L1095.20,155.07L1095.35,155.06L1095.50,155.04L1095.65,155.03L1095.80,155.01L1095.95,154.99L1096.11,154.98L1096.26,154.96L1096.41,154.95L1096.56,154.93L1096.71,154.91L1096.86,154.90L1097.02,154.88L1097.17,154.86L1097.32,154.85L1097.47,154.83L1097.62,154.82L1097.77,154.80L1097.93,154.78L1098.08,154.77L1098.23,154.75L1098.38,154.73L1098.53,154.72L1098.69,154.70L1098.84,154.69L1098.99,154.67L1099.14,154.65L1099.29,154.64L1099.44,154.62L1099.60,154.61L1099.75,154.59L1099.90,154.57L1100.05,154.56L1100.20,154.54L1100.35,154.52L1100.51,154.51L1100.66,154.49L1100.81,154.48L1100.96,154.46L1101.11,154.44L1101.26,154.43L1101.42,154.41L1101.57,154.39L1101.72,154.38L1101.87,154.36L1102.02,154.35L1102.17,154.33L1102.33,154.31L1102.48,154.30L1102.63,154.28L1102.78,154.27L1102.93,154.25L1103.08,154.23L1103.24,154.22L1103.39,154.20L1103.54,154.18L1103.69,154.17L1103.84,154.15L1104.00,154.14L1104.15,154.12L1104.30,154.10L1104.45,154.09L1104.60,154.07L1104.75,154.05L1104.91,154.04L1105.06,154.02L1105.21,154.01L1105.36,153.99L1105.51,153.97L1105.66,153.96L1105.82,153.94L1105.97,153.92L1106.12,153.91L1106.27,153.89L1106.42,153.88L1106.57,153.86L1106.73,153.84L1106.88,153.83L1107.03,153.81L1107.18,153.80L1107.33,153.78L1107.48,153.76L1107.64,153.75L1107.79,153.73L1107.94,153.71L1108.09,153.70L1108.24,153.68L1108.39,153.67L1108.55,153.65L1108.70,153.63L1108.85,153.61L1109.00,153.59L1109.15,153.57L1109.31,153.56L1109.46,153.54L1109.61,153.52L1109.76,153.50L1109.91,153.48L1110.06,153.46L1110.22,153.44L1110.37,153.42L1110.52,153.64L1110.67,154.19L1110.82,154.74L1110.97,155.29L1111.13,155.83L1111.28,156.38L1111.43,156.93L1111.58,157.48L1111.73,157.25L1111.88,156.95L1112.04,156.65L1112.19,156.36L1112.34,156.06L1112.49,155.76L1112.64,155.46L1112.79,155.30L1112.95,155.31L1113.10,155.32L1113.25,155.33L1113.40,155.34L1113.55,155.35L1113.71,155.36L1113.86,155.38L1114.01,155.39L1114.16,155.40L1114.31,155.41L1114.46,155.42L1114.62,155.43L1114.77,155.44L1114.92,155.45L1115.07,155.47L1115.22,155.48L1115.37,155.49L1115.53,155.50L1115.68,155.51L1115.83,155.52L1115.98,155.53L1116.13,155.54L1116.28,155.56L1116.44,155.57L1116.59,155.58L1116.74,155.59L1116.89,155.60L1117.04,155.61L1117.19,155.62L1117.35,155.64L1117.50,155.65L1117.65,155.66L1117.80,155.67L1117.95,155.68L1118.10,155.69L1118.26,155.70L1118.41,155.71L1118.56,155.73L1118.71,155.74L1118.86,155.75L1119.02,155.76L1119.17,155.77L1119.32,155.78L1119.47,155.79L1119.62,155.80L1119.77,155.82L1119.93,155.83L1120.08,155.84L1120.23,155.85L1120.38,155.86L1120.53,155.87L1120.68,155.88L1120.84,155.89L1120.99,155.91L1121.14,155.92L1121.29,155.93L1121.44,155.94L1121.59,155.95L1121.75,155.96L1121.90,155.97L1122.05,155.98L1122.20,156.00L1122.35,156.01L1122.50,156.03L1122.66,156.04L1122.81,156.06L1122.96,156.08L1123.11,156.09L1123.26,156.11L1123.41,156.12L1123.57,156.14L1123.72,156.16L1123.87,156.17L1124.02,156.19L1124.17,156.20L1124.33,156.22L1124.48,156.24L1124.63,156.25L1124.78,156.27L1124.93,156.28L1125.08,156.30L1125.24,156.32L1125.39,156.33L1125.54,156.35L1125.69,156.37L1125.84,156.38L1125.99,156.40L1126.15,156.41L1126.30,156.43L1126.45,156.45L1126.60,156.46L1126.75,156.48L1126.90,156.49L1127.06,156.51L1127.21,156.53L1127.36,156.54L1127.51,156.56L1127.66,156.57L1127.81,156.59L1127.97,156.61L1128.12,156.62L1128.27,156.64L1128.42,156.65L1128.57,156.67L1128.73,156.69L1128.88,156.70L1129.03,156.72L1129.18,156.73L1129.33,156.75L1129.48,156.77L1129.64,156.78L1129.79,156.80L1129.94,156.81L1130.09,156.83L1130.24,156.85L1130.39,156.86L1130.55,156.88L1130.70,156.90L1130.85,156.91L1131.00,156.93L1131.15,157.00L1131.30,157.14L1131.46,157.28L1131.61,157.42L1131.76,157.56L1131.91,157.71L1132.06,157.85L1132.21,157.99L1132.37,158.13L1132.52,158.27L1132.67,158.41L1132.82,158.55L1132.97,158.69L1133.12,158.83L1133.28,158.97L1133.43,158.96L1133.58,158.77L1133.73,158.59L1133.88,158.40L1134.04,158.21L1134.19,158.02L1134.34,157.83L1134.49,157.65L1134.64,157.46L1134.79,157.27L1134.95,157.08L1135.10,156.89L1135.25,156.71L1135.40,156.52L1135.55,156.33L1135.70,156.14L1135.86,155.95L1136.01,155.77L1136.16,155.75L1136.31,155.73L1136.46,155.72L1136.61,155.70L1136.77,155.69L1136.92,155.67L1137.07,155.66L1137.22,155.64L1137.37,155.63L1137.52,155.61L1137.68,155.60L1137.83,155.58L1137.98,155.57L1138.13,155.55L1138.28,155.54L1138.43,155.52L1138.59,155.51L1138.74,155.49L1138.89,155.48L1139.04,155.47L1139.19,155.45L1139.35,155.44L1139.50,155.42L1139.65,155.41L1139.80,155.39L1139.95,155.38L1140.10,155.36L1140.26,155.35L1140.41,155.33L1140.56,155.32L1140.71,155.30L1140.86,155.29L1141.01,155.27L1141.17,155.26L1141.32,155.24L1141.47,155.23L1141.62,155.21L1141.77,155.20L1141.92,155.18L1142.08,155.17L1142.23,155.15L1142.38,155.14L1142.53,155.12L1142.68,155.11L1142.83,155.09L1142.99,155.08L1143.14,155.06L1143.29,155.05L1143.44,155.03L1143.59,155.02L1143.75,155.00L1143.90,154.98L1144.05,154.97L1144.20,154.95L1144.35,154.93L1144.50,154.92L1144.66,154.90L1144.81,154.88L1144.96,154.87L1145.11,154.85L1145.26,154.83L1145.41,154.82L1145.57,154.80L1145.72,154.79L1145.87,154.77L1146.02,154.75L1146.17,154.74L1146.32,154.72L1146.48,154.70L1146.63,154.69L1146.78,154.67L1146.93,154.65L1147.08,154.64L1147.23,154.62L1147.39,154.60L1147.54,154.59L1147.69,154.57L1147.84,154.55L1147.99,154.54L1148.14,154.52L1148.30,154.50L1148.45,154.49L1148.60,154.47" fill="none" stroke="#EDB120" stroke-width="2.2" stroke-dasharray="2 2"/>
<path d="M693.60,161.63L693.75,161.72L693.90,161.82L694.06,161.91L694.21,162.00L694.36,162.09L694.51,162.18L694.66,162.27L694.81,162.37L694.97,162.46L695.12,162.55L695.27,162.64L695.42,162.73L695.57,162.82L695.72,162.91L695.88,163.01L696.03,163.10L696.18,163.19L696.33,163.28L696.48,163.37L696.63,163.46L696.79,163.56L696.94,163.65L697.09,163.74L697.24,163.83L697.39,163.92L697.54,164.01L697.70,164.10L697.85,164.20L698.00,164.29L698.15,164.38L698.30,164.47L698.45,164.56L698.61,164.65L698.76,164.75L698.91,164.84L699.06,164.93L699.21,165.02L699.37,165.11L699.52,165.38L699.67,165.81L699.82,166.24L699.97,166.68L700.12,167.11L700.28,167.54L700.43,167.98L700.58,168.41L700.73,168.84L700.88,169.27L701.03,169.71L701.19,170.14L701.34,170.57L701.49,171.00L701.64,171.44L701.79,171.87L701.94,172.30L702.10,172.74L702.25,173.17L702.40,173.56L702.55,173.91L702.70,174.26L702.85,174.62L703.01,174.97L703.16,175.32L703.31,175.67L703.46,176.03L703.61,176.38L703.77,176.73L703.92,178.25L704.07,180.83L704.22,183.42L704.37,186.00L704.52,188.59L704.68,188.59L704.83,186.24L704.98,183.89L705.13,181.54L705.28,179.19L705.43,176.84L705.59,174.55L705.74,174.34L705.89,174.13L706.04,173.92L706.19,173.72L706.34,173.51L706.50,173.30L706.65,173.09L706.80,172.89L706.95,172.89L707.10,173.08L707.25,173.28L707.41,173.47L707.56,173.66L707.71,173.85L707.86,174.04L708.01,174.24L708.16,174.43L708.32,174.62L708.47,174.81L708.62,175.01L708.77,175.20L708.92,175.39L709.08,175.58L709.23,175.77L709.38,175.97L709.53,176.16L709.68,176.35L709.83,176.54L709.99,176.74L710.14,176.93L710.29,177.12L710.44,177.31L710.59,177.50L710.74,177.70L710.90,177.89L711.05,178.07L711.20,177.99L711.35,177.91L711.50,177.83L711.65,177.75L711.81,177.67L711.96,177.59L712.11,177.51L712.26,177.43L712.41,177.35L712.56,177.27L712.72,177.19L712.87,177.11L713.02,177.03L713.17,176.95L713.32,176.87L713.47,176.79L713.63,176.71L713.78,176.63L713.93,176.55L714.08,176.47L714.23,176.39L714.39,176.31L714.54,176.23L714.69,176.15L714.84,176.07L714.99,175.99L715.14,175.91L715.30,175.83L715.45,175.75L715.60,175.67L715.75,175.59L715.90,175.51L716.05,175.43L716.21,175.35L716.36,175.27L716.51,175.19L716.66,175.11L716.81,175.03L716.96,174.95L717.12,174.87L717.27,174.79L717.42,174.71L717.57,174.63L717.72,174.55L717.87,174.47L718.03,174.39L718.18,174.31L718.33,174.23L718.48,174.15L718.63,174.07L718.79,173.99L718.94,173.91L719.09,173.83L719.24,173.75L719.39,173.67L719.54,173.59L719.70,173.51L719.85,173.43L720.00,173.35L720.15,173.27L720.30,173.19L720.45,173.11L720.61,173.03L720.76,172.95L720.91,172.87L721.06,172.79L721.21,172.71L721.36,172.63L721.52,172.55L721.67,172.47L721.82,172.39L721.97,172.31L722.12,172.23L722.27,172.15L722.43,172.07L722.58,171.99L722.73,171.91L722.88,171.83L723.03,171.75L723.18,171.67L723.34,171.59L723.49,171.51L723.64,171.43L723.79,171.35L723.94,171.27L724.10,171.19L724.25,171.11L724.40,171.03L724.55,170.95L724.70,170.87L724.85,170.80L725.01,170.92L725.16,171.03L725.31,171.15L725.46,171.26L725.61,171.38L725.76,171.50L725.92,171.61L726.07,171.73L726.22,171.84L726.37,171.96L726.52,172.08L726.67,172.19L726.83,172.31L726.98,172.42L727.13,172.54L727.28,172.66L727.43,172.77L727.58,172.89L727.74,173.00L727.89,173.12L728.04,173.24L728.19,173.35L728.34,173.47L728.49,173.58L728.65,173.70L728.80,173.81L728.95,173.93L729.10,174.05L729.25,174.16L729.41,174.28L729.56,174.39L729.71,174.51L729.86,174.63L730.01,174.74L730.16,174.86L730.32,174.97L730.47,175.09L730.62,175.20L730.77,175.30L730.92,175.40L731.07,175.50L731.23,175.60L731.38,175.70L731.53,175.80L731.68,175.90L731.83,176.00L731.98,176.10L732.14,176.20L732.29,176.30L732.44,176.40L732.59,176.51L732.74,176.61L732.89,176.71L733.05,176.81L733.20,176.91L733.35,177.01L733.50,177.11L733.65,177.21L733.81,177.31L733.96,177.41L734.11,177.51L734.26,177.61L734.41,177.71L734.56,177.81L734.72,177.92L734.87,178.02L735.02,178.12L735.17,178.22L735.32,178.32L735.47,178.42L735.63,178.52L735.78,178.62L735.93,178.65L736.08,178.63L736.23,178.61L736.38,178.59L736.54,178.57L736.69,178.56L736.84,178.54L736.99,178.52L737.14,178.50L737.29,178.48L737.45,178.46L737.60,178.44L737.75,178.42L737.90,178.41L738.05,178.39L738.20,178.37L738.36,178.35L738.51,178.33L738.66,178.31L738.81,178.29L738.96,178.27L739.12,178.26L739.27,178.24L739.42,178.22L739.57,178.20L739.72,178.18L739.87,178.16L740.03,178.14L740.18,178.12L740.33,178.10L740.48,178.09L740.63,178.07L740.78,178.05L740.94,178.03L741.09,178.01L741.24,177.99L741.39,177.97L741.54,177.95L741.69,177.94L741.85,177.92L742.00,177.90L742.15,177.88L742.30,177.86L742.45,177.84L742.60,177.82L742.76,177.80L742.91,177.79L743.06,177.77L743.21,177.75L743.36,177.73L743.51,177.71L743.67,177.69L743.82,177.67L743.97,177.65L744.12,177.64L744.27,177.62L744.43,177.60L744.58,177.58L744.73,177.56L744.88,177.54L745.03,177.52L745.18,177.50L745.34,177.49L745.49,177.49L745.64,177.57L745.79,177.70L745.94,177.84L746.09,177.97L746.25,178.11L746.40,178.24L746.55,178.37L746.70,178.51L746.85,178.64L747.00,178.78L747.16,178.91L747.31,179.05L747.46,179.18L747.61,179.31L747.76,179.45L747.91,179.58L748.07,179.72L748.22,179.85L748.37,179.99L748.52,180.12L748.67,180.25L748.83,180.39L748.98,180.52L749.13,180.66L749.28,180.79L749.43,180.93L749.58,181.06L749.74,181.19L749.89,181.33L750.04,181.46L750.19,181.60L750.34,181.73L750.49,181.87L750.65,182.00L750.80,182.13L750.95,182.31L751.10,182.50L751.25,182.70L751.40,184.24L751.56,186.59L751.71,188.94L751.86,191.29L752.01,193.64L752.16,195.99L752.31,195.39L752.47,193.04L752.62,190.69L752.77,188.34L752.92,185.99L753.07,183.64L753.22,182.71L753.38,182.62L753.53,182.52L753.68,182.43L753.83,182.34L753.98,182.24L754.14,182.15L754.29,182.05L754.44,181.96L754.59,181.87L754.74,181.90L754.89,182.00L755.05,182.11L755.20,182.22L755.35,182.32L755.50,182.43L755.65,182.53L755.80,182.64L755.96,182.74L756.11,182.85L756.26,182.96L756.41,183.06L756.56,183.17L756.71,183.27L756.87,183.38L757.02,183.48L757.17,183.59L757.32,183.70L757.47,183.80L757.62,183.91L757.78,183.89L757.93,183.80L758.08,183.71L758.23,183.62L758.38,183.54L758.53,183.45L758.69,183.36L758.84,183.27L758.99,183.18L759.14,183.10L759.29,183.01L759.45,182.92L759.60,182.83L759.75,182.74L759.90,182.66L760.05,182.57L760.20,182.48L760.36,182.39L760.51,182.30L760.66,182.22L760.81,182.08L760.96,181.93L761.11,181.77L761.27,181.61L761.42,181.46L761.57,181.30L761.72,181.14L761.87,180.99L762.02,180.83L762.18,180.67L762.33,180.52L762.48,180.36L762.63,180.20L762.78,180.05L762.93,179.89L763.09,179.73L763.24,179.58L763.39,179.42L763.54,179.26L763.69,179.11L763.85,178.95L764.00,178.79L764.15,178.64L764.30,178.48L764.45,178.32L764.60,178.17L764.76,178.01L764.91,177.85L765.06,177.70L765.21,177.54L765.36,177.38L765.51,177.23L765.67,177.07L765.82,176.96L765.97,176.87L766.12,176.79L766.27,176.70L766.42,176.62L766.58,176.53L766.73,176.44L766.88,176.36L767.03,176.27L767.18,176.19L767.33,176.10L767.49,176.01L767.64,175.93L767.79,175.84L767.94,175.75L768.09,175.67L768.24,175.58L768.40,175.50L768.55,175.41L768.70,175.32L768.85,175.24L769.00,175.15L769.16,175.07L769.31,174.98L769.46,174.89L769.61,174.81L769.76,174.72L769.91,174.63L770.07,174.55L770.22,174.46L770.37,174.38L770.52,174.29L770.67,174.20L770.82,174.12L770.98,174.03L771.13,173.95L771.28,173.86L771.43,173.77L771.58,173.69L771.73,173.60L771.89,173.51L772.04,173.43L772.19,173.34L772.34,173.26L772.49,173.17L772.64,173.22L772.80,173.35L772.95,173.47L773.10,173.59L773.25,173.71L773.40,173.84L773.55,173.96L773.71,174.08L773.86,174.20L774.01,174.33L774.16,174.45L774.31,174.97L774.47,177.32L774.62,179.67L774.77,182.02L774.92,184.37L775.07,186.71L775.22,188.29L775.38,186.33L775.53,184.38L775.68,182.42L775.83,180.46L775.98,178.50L776.13,176.89L776.29,176.82L776.44,176.76L776.59,176.69L776.74,176.63L776.89,176.56L777.04,176.50L777.20,176.43L777.35,176.37L777.50,176.33L777.65,176.41L777.80,176.50L777.95,176.58L778.11,176.67L778.26,176.75L778.41,176.84L778.56,176.92L778.71,177.00L778.87,177.09L779.02,177.17L779.17,177.26L779.32,177.34L779.47,177.43L779.62,177.51L779.78,177.60L779.93,177.68L780.08,177.77L780.23,177.85L780.38,177.94L780.53,178.02L780.69,178.10L780.84,178.19L780.99,178.27L781.14,178.36L781.29,178.44L781.44,178.53L781.60,178.61L781.75,178.70L781.90,178.78L782.05,178.87L782.20,178.95L782.35,179.03L782.51,179.12L782.66,179.20L782.81,179.29L782.96,179.37L783.11,179.46L783.26,179.46L783.42,179.43L783.57,179.40L783.72,179.37L783.87,179.34L784.02,179.31L784.18,179.28L784.33,179.25L784.48,179.22L784.63,179.19L784.78,179.16L784.93,179.13L785.09,179.10L785.24,179.07L785.39,179.05L785.54,179.02L785.69,178.99L785.84,178.96L786.00,178.93L786.15,178.90L786.30,178.87L786.45,178.84L786.60,178.81L786.75,178.78L786.91,178.75L787.06,178.72L787.21,178.69L787.36,178.66L787.51,178.63L787.66,178.60L787.82,178.57L787.97,178.54L788.12,178.51L788.27,178.48L788.42,178.45L788.57,178.42L788.73,178.39L788.88,178.36L789.03,178.33L789.18,178.30L789.33,178.27L789.49,178.24L789.64,178.21L789.79,178.18L789.94,178.15L790.09,178.12L790.24,178.09L790.40,178.06L790.55,178.03L790.70,178.00L790.85,177.97L791.00,177.94L791.15,177.91L791.31,177.88L791.46,177.85L791.61,177.82L791.76,177.79L791.91,177.76L792.06,177.73L792.22,177.70L792.37,177.67L792.52,177.64L792.67,177.61L792.82,177.58L792.97,177.55L793.13,177.53L793.28,177.50L793.43,177.58L793.58,177.72L793.73,177.85L793.89,177.99L794.04,178.12L794.19,178.25L794.34,178.39L794.49,178.52L794.64,178.66L794.80,178.79L794.95,178.93L795.10,179.06L795.25,179.19L795.40,179.33L795.55,179.46L795.71,179.60L795.86,179.73L796.01,179.87L796.16,180.00L796.31,180.13L796.46,180.27L796.62,180.40L796.77,180.54L796.92,180.67L797.07,180.81L797.22,180.94L797.37,181.07L797.53,181.21L797.68,181.34L797.83,181.48L797.98,181.61L798.13,181.75L798.28,181.88L798.44,182.01L798.59,182.15L798.74,182.33L798.89,182.52L799.04,182.72L799.20,184.63L799.35,187.18L799.50,189.72L799.65,192.27L799.80,194.81L799.95,197.36L800.11,196.17L800.26,193.62L800.41,191.08L800.56,188.53L800.71,185.99L800.86,183.44L801.02,182.70L801.17,182.61L801.32,182.51L801.47,182.42L801.62,182.33L801.77,182.23L801.93,182.14L802.08,182.04L802.23,181.95L802.38,181.86L802.53,181.91L802.68,182.02L802.84,182.12L802.99,182.23L803.14,182.33L803.29,182.44L803.44,182.54L803.59,182.65L803.75,182.76L803.90,182.86L804.05,182.97L804.20,183.07L804.35,183.18L804.51,183.28L804.66,183.39L804.81,183.50L804.96,183.60L805.11,183.71L805.26,183.81L805.42,183.92L805.57,183.88L805.72,183.79L805.87,183.70L806.02,183.62L806.17,183.53L806.33,183.44L806.48,183.35L806.63,183.26L806.78,183.18L806.93,183.09L807.08,183.00L807.24,182.91L807.39,182.82L807.54,182.73L807.69,182.65L807.84,182.56L807.99,182.47L808.15,182.38L808.30,182.29L808.45,182.21L808.60,182.09L808.75,181.96L808.91,181.83L809.06,181.71L809.21,181.58L809.36,181.45L809.51,181.32L809.66,181.19L809.82,181.07L809.97,180.94L810.12,180.81L810.27,180.68L810.42,180.56L810.57,180.43L810.73,180.30L810.88,180.17L811.03,180.05L811.18,179.92L811.33,179.79L811.48,179.66L811.64,179.54L811.79,179.41L811.94,179.28L812.09,179.15L812.24,179.03L812.39,178.90L812.55,178.77L812.70,178.64L812.85,178.51L813.00,178.39L813.15,178.26L813.30,178.13L813.46,178.00L813.61,177.88L813.76,177.75L813.91,177.62L814.06,177.49L814.22,177.37L814.37,177.24L814.52,177.11L814.67,176.99L814.82,176.91L814.97,176.82L815.13,176.74L815.28,176.65L815.43,176.56L815.58,176.48L815.73,176.39L815.88,176.31L816.04,176.22L816.19,176.13L816.34,176.05L816.49,175.96L816.64,175.87L816.79,175.79L816.95,175.70L817.10,175.62L817.25,175.53L817.40,175.44L817.55,175.36L817.70,175.27L817.86,175.19L818.01,175.10L818.16,175.01L818.31,174.93L818.46,174.84L818.62,174.75L818.77,174.67L818.92,174.58L819.07,174.50L819.22,174.41L819.37,174.32L819.53,174.24L819.68,174.15L819.83,174.07L819.98,173.98L820.13,173.89L820.28,173.81L820.44,173.72L820.59,173.63L820.74,173.55L820.89,173.46L821.04,173.38L821.19,173.29L821.35,173.20L821.50,173.18L821.65,173.30L821.80,173.42L821.95,173.54L822.10,173.67L822.26,173.79L822.41,173.91L822.56,174.03L822.71,174.16L822.86,174.28L823.01,174.40L823.17,174.52L823.32,176.39L823.47,178.74L823.62,181.09L823.77,183.44L823.93,185.79L824.08,188.14L824.23,187.10L824.38,185.14L824.53,183.19L824.68,181.23L824.84,179.27L824.99,177.31L825.14,176.85L825.29,176.78L825.44,176.72L825.59,176.65L825.75,176.59L825.90,176.52L826.05,176.46L826.20,176.39L826.35,176.33L826.50,176.38L826.66,176.46L826.81,176.55L826.96,176.63L827.11,176.72L827.26,176.80L827.41,176.89L827.57,176.97L827.72,177.06L827.87,177.14L828.02,177.23L828.17,177.31L828.32,177.39L828.48,177.48L828.63,177.56L828.78,177.65L828.93,177.73L829.08,177.82L829.24,177.90L829.39,177.99L829.54,178.07L829.69,178.16L829.84,178.24L829.99,178.32L830.15,178.41L830.30,178.49L830.45,178.58L830.60,178.66L830.75,178.75L830.90,178.83L831.06,178.92L831.21,179.00L831.36,179.09L831.51,179.17L831.66,179.26L831.81,179.34L831.97,179.42L832.12,179.47L832.27,179.44L832.42,179.40L832.57,179.37L832.72,179.33L832.88,179.29L833.03,179.26L833.18,179.22L833.33,179.19L833.48,179.15L833.64,179.12L833.79,179.08L833.94,179.04L834.09,179.01L834.24,178.97L834.39,178.94L834.55,178.90L834.70,178.87L834.85,178.83L835.00,178.79L835.15,178.76L835.30,178.72L835.46,178.69L835.61,178.65L835.76,178.62L835.91,178.58L836.06,178.55L836.21,178.51L836.37,178.47L836.52,178.44L836.67,178.40L836.82,178.37L836.97,178.33L837.12,178.30L837.28,178.26L837.43,178.22L837.58,178.19L837.73,178.15L837.88,178.12L838.03,178.08L838.19,178.05L838.34,178.01L838.49,177.97L838.64,177.94L838.79,177.90L838.95,177.87L839.10,177.83L839.25,177.80L839.40,177.76L839.55,177.72L839.70,177.69L839.86,177.65L840.01,177.62L840.16,177.58L840.31,177.55L840.46,177.51L840.61,177.53L840.77,177.66L840.92,177.80L841.07,177.93L841.22,178.07L841.37,178.20L841.52,178.34L841.68,178.47L841.83,178.60L841.98,178.74L842.13,178.87L842.28,179.01L842.43,179.14L842.59,179.28L842.74,179.41L842.89,179.54L843.04,179.68L843.19,179.81L843.34,179.95L843.50,180.08L843.65,180.22L843.80,180.35L843.95,180.48L844.10,180.62L844.26,180.75L844.41,180.89L844.56,181.02L844.71,181.16L844.86,181.29L845.01,181.42L845.17,181.56L845.32,181.69L845.47,181.83L845.62,181.96L845.77,182.09L845.92,182.25L846.08,182.45L846.23,182.64L846.38,183.23L846.53,184.60L846.68,185.97L846.83,187.34L846.99,188.71L847.14,190.08L847.29,190.53L847.44,189.16L847.59,187.79L847.74,186.42L847.90,185.05L848.05,183.68L848.20,182.74L848.35,182.65L848.50,182.55L848.66,182.46L848.81,182.36L848.96,182.27L849.11,182.18L849.26,182.08L849.41,181.99L849.57,181.89L849.72,181.87L849.87,181.97L850.02,182.08L850.17,182.19L850.32,182.29L850.48,182.40L850.63,182.50L850.78,182.61L850.93,182.71L851.08,182.82L851.23,182.93L851.39,183.03L851.54,183.14L851.69,183.24L851.84,183.35L851.99,183.45L852.14,183.56L852.30,183.67L852.45,183.77L852.60,183.88L852.75,183.91L852.90,183.83L853.05,183.74L853.21,183.65L853.36,183.56L853.51,183.47L853.66,183.39L853.81,183.30L853.97,183.21L854.12,183.12L854.27,183.03L854.42,182.95L854.57,182.86L854.72,182.77L854.88,182.68L855.03,182.59L855.18,182.51L855.33,182.42L855.48,182.33L855.63,182.24L855.79,182.14L855.94,182.02L856.09,181.90L856.24,181.79L856.39,181.67L856.54,181.55L856.70,181.43L856.85,181.31L857.00,181.19L857.15,181.07L857.30,180.95L857.45,180.83L857.61,180.72L857.76,180.60L857.91,180.48L858.06,180.36L858.21,180.24L858.36,180.12L858.52,180.00L858.67,179.88L858.82,179.77L858.97,179.65L859.12,179.53L859.28,179.41L859.43,179.29L859.58,179.17L859.73,179.05L859.88,178.93L860.03,178.81L860.19,178.70L860.34,178.58L860.49,178.46L860.64,178.34L860.79,178.22L860.94,178.10L861.10,177.98L861.25,177.86L861.40,177.75L861.55,177.63L861.70,177.51L861.85,177.39L862.01,177.27L862.16,177.15L862.31,177.03L862.46,176.94L862.61,176.86L862.76,176.77L862.92,176.68L863.07,176.60L863.22,176.51L863.37,176.43L863.52,176.34L863.68,176.25L863.83,176.17L863.98,176.08L864.13,175.99L864.28,175.91L864.43,175.82L864.59,175.74L864.74,175.65L864.89,175.56L865.04,175.48L865.19,175.39L865.34,175.31L865.50,175.22L865.65,175.13L865.80,175.05L865.95,174.96L866.10,174.87L866.25,174.79L866.41,174.70L866.56,174.62L866.71,174.53L866.86,174.44L867.01,174.36L867.16,174.27L867.32,174.19L867.47,174.10L867.62,174.01L867.77,173.93L867.92,173.84L868.07,173.75L868.23,173.67L868.38,173.58L868.53,173.50L868.68,173.41L868.83,173.32L868.99,173.24L869.14,173.15L869.29,173.25L869.44,173.37L869.59,173.50L869.74,173.62L869.90,173.74L870.05,173.86L870.20,173.99L870.35,174.11L870.50,174.23L870.65,174.35L870.81,174.48L870.96,175.47L871.11,177.82L871.26,180.17L871.41,182.51L871.56,184.86L871.72,187.21L871.87,187.88L872.02,185.92L872.17,183.96L872.32,182.00L872.47,180.04L872.63,178.09L872.78,176.87L872.93,176.81L873.08,176.74L873.23,176.68L873.38,176.61L873.54,176.55L873.69,176.48L873.84,176.42L873.99,176.35L874.14,176.35L874.30,176.43L874.45,176.52L874.60,176.60L874.75,176.68L874.90,176.77L875.05,176.85L875.21,176.94L875.36,177.02L875.51,177.11L875.66,177.19L875.81,177.28L875.96,177.36L876.12,177.45L876.27,177.53L876.42,177.61L876.57,177.70L876.72,177.78L876.87,177.87L877.03,177.95L877.18,178.04L877.33,178.12L877.48,178.21L877.63,178.29L877.78,178.38L877.94,178.46L878.09,178.55L878.24,178.63L878.39,178.71L878.54,178.80L878.70,178.88L878.85,178.97L879.00,179.05L879.15,179.14L879.30,179.22L879.45,179.31L879.61,179.39L879.76,179.48L879.91,179.45L880.06,179.41L880.21,179.38L880.36,179.34L880.52,179.31L880.67,179.27L880.82,179.23L880.97,179.20L881.12,179.16L881.27,179.13L881.43,179.09L881.58,179.05L881.73,179.02L881.88,178.98L882.03,178.95L882.18,178.91L882.34,178.87L882.49,178.84L882.64,178.80L882.79,178.77L882.94,178.73L883.09,178.69L883.25,178.66L883.40,178.62L883.55,178.59L883.70,178.55L883.85,178.51L884.01,178.48L884.16,178.44L884.31,178.41L884.46,178.37L884.61,178.34L884.76,178.30L884.92,178.26L885.07,178.23L885.22,178.19L885.37,178.16L885.52,178.12L885.67,178.08L885.83,178.05L885.98,178.01L886.13,177.98L886.28,177.94L886.43,177.90L886.58,177.87L886.74,177.83L886.89,177.80L887.04,177.76L887.19,177.72L887.34,177.69L887.49,177.65L887.65,177.62L887.80,177.58L887.95,177.54L888.10,177.51L888.25,177.54L888.40,177.68L888.56,177.81L888.71,177.95L888.86,178.08L889.01,178.22L889.16,178.35L889.32,178.48L889.47,178.62L889.62,178.75L889.77,178.89L889.92,179.02L890.07,179.16L890.23,179.29L890.38,179.42L890.53,179.56L890.68,179.69L890.83,179.83L890.98,179.96L891.14,180.10L891.29,180.23L891.44,180.36L891.59,180.50L891.74,180.63L891.89,180.77L892.05,180.90L892.20,181.03L892.35,181.17L892.50,181.30L892.65,181.44L892.80,181.57L892.96,181.71L893.11,181.84L893.26,181.97L893.41,182.11L893.56,182.27L893.72,182.47L893.87,182.66L894.02,183.55L894.17,185.31L894.32,187.07L894.47,188.83L894.63,190.60L894.78,192.36L894.93,192.56L895.08,190.80L895.23,189.04L895.38,187.27L895.54,185.51L895.69,183.75L895.84,182.73L895.99,182.64L896.14,182.54L896.29,182.45L896.45,182.35L896.60,182.26L896.75,182.17L896.90,182.07L897.05,181.98L897.20,181.88L897.36,181.88L897.51,181.98L897.66,182.09L897.81,182.20L897.96,182.30L898.11,182.41L898.27,182.51L898.42,182.62L898.57,182.72L898.72,182.83L898.87,182.94L899.03,183.04L899.18,183.15L899.33,183.25L899.48,183.36L899.63,183.47L899.78,183.57L899.94,183.68L900.09,183.78L900.24,183.89L900.39,183.91L900.54,183.82L900.69,183.73L900.85,183.64L901.00,183.55L901.15,183.47L901.30,183.38L901.45,183.29L901.60,183.20L901.76,183.11L901.91,183.02L902.06,182.94L902.21,182.85L902.36,182.76L902.51,182.67L902.67,182.58L902.82,182.50L902.97,182.41L903.12,182.32L903.27,182.23L903.42,182.13L903.58,182.00L903.73,181.87L903.88,181.75L904.03,181.62L904.18,181.50L904.34,181.37L904.49,181.24L904.64,181.12L904.79,180.99L904.94,180.87L905.09,180.74L905.25,180.61L905.40,180.49L905.55,180.36L905.70,180.24L905.85,180.11L906.00,179.98L906.16,179.86L906.31,179.73L906.46,179.60L906.61,179.48L906.76,179.35L906.91,179.23L907.07,179.10L907.22,178.97L907.37,178.85L907.52,178.72L907.67,178.60L907.82,178.47L907.98,178.34L908.13,178.22L908.28,178.09L908.43,177.97L908.58,177.84L908.74,177.71L908.89,177.59L909.04,177.46L909.19,177.34L909.34,177.21L909.49,177.08L909.65,176.98L909.80,176.89L909.95,176.80L910.10,176.72L910.25,176.63L910.40,176.55L910.56,176.46L910.71,176.37L910.86,176.29L911.01,176.20L911.16,176.11L911.31,176.03L911.47,175.94L911.62,175.86L911.77,175.77L911.92,175.68L912.07,175.60L912.22,175.51L912.38,175.43L912.53,175.34L912.68,175.25L912.83,175.17L912.98,175.08L913.13,174.99L913.29,174.91L913.44,174.82L913.59,174.74L913.74,174.65L913.89,174.56L914.05,174.48L914.20,174.39L914.35,174.31L914.50,174.22L914.65,174.13L914.80,174.05L914.96,173.96L915.11,173.87L915.26,173.79L915.41,173.70L915.56,173.62L915.71,173.53L915.87,173.44L916.02,173.36L916.17,173.27L916.32,173.19L916.47,173.20L916.62,173.32L916.78,173.45L916.93,173.57L917.08,173.69L917.23,173.81L917.38,173.94L917.53,174.06L917.69,174.18L917.84,174.31L917.99,174.43L918.14,174.55L918.29,176.89L918.44,179.23L918.60,181.58L918.75,183.93L918.90,186.28L919.05,188.63L919.20,186.69L919.36,184.74L919.51,182.78L919.66,180.82L919.81,178.86L919.96,176.90L920.11,176.83L920.27,176.77L920.42,176.70L920.57,176.64L920.72,176.57L920.87,176.51L921.02,176.44L921.18,176.38L921.33,176.31L921.48,176.40L921.63,176.48L921.78,176.57L921.93,176.65L922.09,176.74L922.24,176.82L922.39,176.90L922.54,176.99L922.69,177.07L922.84,177.16L923.00,177.24L923.15,177.33L923.30,177.41L923.45,177.50L923.60,177.58L923.76,177.67L923.91,177.75L924.06,177.83L924.21,177.92L924.36,178.00L924.51,178.09L924.67,178.17L924.82,178.26L924.97,178.34L925.12,178.43L925.27,178.51L925.42,178.60L925.58,178.68L925.73,178.77L925.88,178.85L926.03,178.93L926.18,179.02L926.33,179.10L926.49,179.19L926.64,179.27L926.79,179.36L926.94,179.44L927.09,179.47L927.24,179.43L927.40,179.40L927.55,179.36L927.70,179.33L927.85,179.29L928.00,179.26L928.15,179.22L928.31,179.19L928.46,179.15L928.61,179.12L928.76,179.08L928.91,179.05L929.07,179.01L929.22,178.98L929.37,178.94L929.52,178.91L929.67,178.87L929.82,178.84L929.98,178.81L930.13,178.77L930.28,178.74L930.43,178.70L930.58,178.67L930.73,178.63L930.89,178.60L931.04,178.56L931.19,178.53L931.34,178.49L931.49,178.46L931.64,178.42L931.80,178.39L931.95,178.35L932.10,178.32L932.25,178.28L932.40,178.25L932.55,178.22L932.71,178.18L932.86,178.15L933.01,178.11L933.16,178.08L933.31,178.04L933.46,178.01L933.62,177.97L933.77,177.94L933.92,177.90L934.07,177.87L934.22,177.83L934.38,177.80L934.53,177.76L934.68,177.73L934.83,177.69L934.98,177.66L935.13,177.62L935.29,177.59L935.44,177.56L935.59,177.52L935.74,177.49L935.89,177.63L936.04,177.76L936.20,177.89L936.35,178.03L936.50,178.16L936.65,178.30L936.80,178.43L936.95,178.57L937.11,178.70L937.26,178.83L937.41,178.97L937.56,179.10L937.71,179.24L937.86,179.37L938.02,179.50L938.17,179.64L938.32,179.77L938.47,179.91L938.62,180.04L938.78,180.18L938.93,180.31L939.08,180.44L939.23,180.58L939.38,180.71L939.53,180.85L939.69,180.98L939.84,181.12L939.99,181.25L940.14,181.38L940.29,181.52L940.44,181.65L940.60,181.79L940.75,181.92L940.90,182.06L941.05,182.19L941.20,182.39L941.35,182.58L941.51,182.86L941.66,184.82L941.81,186.77L941.96,188.73L942.11,190.69L942.26,192.65L942.42,194.42L942.57,192.47L942.72,190.51L942.87,188.55L943.02,186.59L943.17,184.63L943.33,182.77L943.48,182.67L943.63,182.58L943.78,182.48L943.93,182.39L944.09,182.30L944.24,182.20L944.39,182.11L944.54,182.01L944.69,181.92L944.84,181.84L945.00,181.94L945.15,182.05L945.30,182.15L945.45,182.26L945.60,182.37L945.75,182.47L945.91,182.58L946.06,182.68L946.21,182.79L946.36,182.89L946.51,183.00L946.66,183.11L946.82,183.21L946.97,183.32L947.12,183.42L947.27,183.53L947.42,183.63L947.57,183.74L947.73,183.85L947.88,183.94L948.03,183.85L948.18,183.76L948.33,183.68L948.48,183.59L948.64,183.50L948.79,183.41L948.94,183.32L949.09,183.24L949.24,183.15L949.40,183.06L949.55,182.97L949.70,182.88L949.85,182.80L950.00,182.71L950.15,182.62L950.31,182.53L950.46,182.44L950.61,182.35L950.76,182.27L950.91,182.18L951.06,182.05L951.22,181.92L951.37,181.79L951.52,181.67L951.67,181.54L951.82,181.41L951.97,181.28L952.13,181.15L952.28,181.03L952.43,180.90L952.58,180.77L952.73,180.64L952.88,180.52L953.04,180.39L953.19,180.26L953.34,180.13L953.49,180.01L953.64,179.88L953.80,179.75L953.95,179.62L954.10,179.50L954.25,179.37L954.40,179.24L954.55,179.11L954.71,178.99L954.86,178.86L955.01,178.73L955.16,178.60L955.31,178.47L955.46,178.35L955.62,178.22L955.77,178.09L955.92,177.96L956.07,177.84L956.22,177.71L956.37,177.58L956.53,177.45L956.68,177.33L956.83,177.20L956.98,177.07L957.13,176.97L957.28,176.88L957.44,176.79L957.59,176.71L957.74,176.62L957.89,176.54L958.04,176.45L958.19,176.36L958.35,176.28L958.50,176.19L958.65,176.11L958.80,176.02L958.95,175.93L959.11,175.85L959.26,175.76L959.41,175.68L959.56,175.59L959.71,175.50L959.86,175.42L960.02,175.33L960.17,175.24L960.32,175.16L960.47,175.07L960.62,174.99L960.77,174.90L960.93,174.81L961.08,174.73L961.23,174.64L961.38,174.56L961.53,174.47L961.68,174.38L961.84,174.30L961.99,174.21L962.14,174.12L962.29,174.04L962.44,173.95L962.59,173.87L962.75,173.78L962.90,173.69L963.05,173.61L963.20,173.52L963.35,173.44L963.50,173.35L963.66,173.26L963.81,173.18L963.96,173.21L964.11,173.34L964.26,173.46L964.42,173.58L964.57,173.70L964.72,173.83L964.87,173.95L965.02,174.07L965.17,174.20L965.33,174.32L965.48,174.44L965.63,174.78L965.78,177.13L965.93,179.48L966.08,181.83L966.24,184.18L966.39,186.53L966.54,188.45L966.69,186.49L966.84,184.53L966.99,182.57L967.15,180.62L967.30,178.66L967.45,176.89L967.60,176.83L967.75,176.76L967.90,176.70L968.06,176.63L968.21,176.57L968.36,176.50L968.51,176.44L968.66,176.37L968.82,176.32L968.97,176.41L969.12,176.49L969.27,176.58L969.42,176.66L969.57,176.74L969.73,176.83L969.88,176.91L970.03,177.00L970.18,177.08L970.33,177.17L970.48,177.25L970.64,177.34L970.79,177.42L970.94,177.51L971.09,177.59L971.24,177.67L971.39,177.76L971.55,177.84L971.70,177.93L971.85,178.01L972.00,178.10L972.15,178.18L972.30,178.27L972.46,178.35L972.61,178.44L972.76,178.52L972.91,178.61L973.06,178.69L973.21,178.77L973.37,178.86L973.52,178.94L973.67,179.03L973.82,179.11L973.97,179.20L974.13,179.28L974.28,179.37L974.43,179.45L974.58,179.46L974.73,179.43L974.88,179.39L975.04,179.36L975.19,179.32L975.34,179.28L975.49,179.25L975.64,179.21L975.79,179.18L975.95,179.14L976.10,179.11L976.25,179.07L976.40,179.04L976.55,179.00L976.70,178.97L976.86,178.93L977.01,178.90L977.16,178.86L977.31,178.83L977.46,178.79L977.61,178.75L977.77,178.72L977.92,178.68L978.07,178.65L978.22,178.61L978.37,178.58L978.52,178.54L978.68,178.51L978.83,178.47L978.98,178.44L979.13,178.40L979.28,178.37L979.44,178.33L979.59,178.29L979.74,178.26L979.89,178.22L980.04,178.19L980.19,178.15L980.35,178.12L980.50,178.08L980.65,178.05L980.80,178.01L980.95,177.98L981.10,177.94L981.26,177.91L981.41,177.87L981.56,177.84L981.71,177.80L981.86,177.76L982.01,177.73L982.17,177.69L982.32,177.66L982.47,177.62L982.62,177.59L982.77,177.55L982.92,177.52L983.08,177.51L983.23,177.64L983.38,177.77L983.53,177.91L983.68,178.04L983.84,178.18L983.99,178.31L984.14,178.44L984.29,178.58L984.44,178.71L984.59,178.85L984.75,178.98L984.90,179.12L985.05,179.25L985.20,179.38L985.35,179.52L985.50,179.65L985.66,179.79L985.81,179.92L985.96,180.06L986.11,180.19L986.26,180.32L986.41,180.46L986.57,180.59L986.72,180.73L986.87,180.86L987.02,181.00L987.17,181.13L987.32,181.26L987.48,181.40L987.63,181.53L987.78,181.67L987.93,181.80L988.08,181.94L988.23,182.07L988.39,182.21L988.54,182.41L988.69,182.60L988.84,183.06L988.99,185.02L989.15,186.98L989.30,188.94L989.45,190.89L989.60,192.85L989.75,194.22L989.90,192.26L990.06,190.30L990.21,188.35L990.36,186.39L990.51,184.43L990.66,182.76L990.81,182.66L990.97,182.57L991.12,182.48L991.27,182.38L991.42,182.29L991.57,182.19L991.72,182.10L991.88,182.01L992.03,181.91L992.18,181.85L992.33,181.95L992.48,182.06L992.63,182.17L992.79,182.27L992.94,182.38L993.09,182.48L993.24,182.59L993.39,182.69L993.54,182.80L993.70,182.91L993.85,183.01L994.00,183.12L994.15,183.22L994.30,183.33L994.46,183.43L994.61,183.54L994.76,183.65L994.91,183.75L995.06,183.86L995.21,183.93L995.37,183.84L995.52,183.76L995.67,183.67L995.82,183.58L995.97,183.49L996.12,183.40L996.28,183.31L996.43,183.23L996.58,183.14L996.73,183.05L996.88,182.96L997.03,182.87L997.19,182.79L997.34,182.70L997.49,182.61L997.64,182.52L997.79,182.43L997.94,182.35L998.10,182.26L998.25,182.16L998.40,182.05L998.55,181.93L998.70,181.81L998.86,181.69L999.01,181.57L999.16,181.45L999.31,181.33L999.46,181.21L999.61,181.09L999.77,180.98L999.92,180.86L1000.07,180.74L1000.22,180.62L1000.37,180.50L1000.52,180.38L1000.68,180.26L1000.83,180.14L1000.98,180.03L1001.13,179.91L1001.28,179.79L1001.43,179.67L1001.59,179.55L1001.74,179.43L1001.89,179.31L1002.04,179.19L1002.19,179.07L1002.34,178.96L1002.50,178.84L1002.65,178.72L1002.80,178.60L1002.95,178.48L1003.10,178.36L1003.25,178.24L1003.41,178.12L1003.56,178.01L1003.71,177.89L1003.86,177.77L1004.01,177.65L1004.17,177.53L1004.32,177.41L1004.47,177.29L1004.62,177.17L1004.77,177.05L1004.92,176.96L1005.08,176.87L1005.23,176.79L1005.38,176.70L1005.53,176.61L1005.68,176.53L1005.83,176.44L1005.99,176.36L1006.14,176.27L1006.29,176.18L1006.44,176.10L1006.59,176.01L1006.74,175.92L1006.90,175.84L1007.05,175.75L1007.20,175.67L1007.35,175.58L1007.50,175.49L1007.65,175.41L1007.81,175.32L1007.96,175.24L1008.11,175.15L1008.26,175.06L1008.41,174.98L1008.56,174.89L1008.72,174.80L1008.87,174.72L1009.02,174.63L1009.17,174.55L1009.32,174.46L1009.48,174.37L1009.63,174.29L1009.78,174.20L1009.93,174.12L1010.08,174.03L1010.23,173.94L1010.39,173.86L1010.54,173.77L1010.69,173.68L1010.84,173.60L1010.99,173.51L1011.14,173.43L1011.30,173.34L1011.45,173.25L1011.60,173.17L1011.75,173.23L1011.90,173.35L1012.05,173.47L1012.21,173.60L1012.36,173.72L1012.51,173.84L1012.66,173.96L1012.81,174.09L1012.96,174.21L1013.12,174.33L1013.27,174.45L1013.42,175.03L1013.57,177.38L1013.72,179.73L1013.88,182.08L1014.03,184.43L1014.18,186.77L1014.33,188.24L1014.48,186.28L1014.63,184.33L1014.79,182.37L1014.94,180.41L1015.09,178.45L1015.24,176.89L1015.39,176.82L1015.54,176.76L1015.70,176.69L1015.85,176.63L1016.00,176.56L1016.15,176.49L1016.30,176.43L1016.45,176.36L1016.61,176.33L1016.76,176.41L1016.91,176.50L1017.06,176.58L1017.21,176.67L1017.36,176.75L1017.52,176.84L1017.67,176.92L1017.82,177.01L1017.97,177.09L1018.12,177.18L1018.27,177.26L1018.43,177.35L1018.58,177.43L1018.73,177.51L1018.88,177.60L1019.03,177.68L1019.19,177.77L1019.34,177.85L1019.49,177.94L1019.64,178.02L1019.79,178.11L1019.94,178.19L1020.10,178.28L1020.25,178.36L1020.40,178.44L1020.55,178.53L1020.70,178.61L1020.85,178.70L1021.01,178.78L1021.16,178.87L1021.31,178.95L1021.46,179.04L1021.61,179.12L1021.76,179.21L1021.92,179.29L1022.07,179.38L1022.22,179.46L1022.37,179.46L1022.52,179.42L1022.67,179.38L1022.83,179.35L1022.98,179.31L1023.13,179.27L1023.28,179.23L1023.43,179.20L1023.58,179.16L1023.74,179.12L1023.89,179.09L1024.04,179.05L1024.19,179.01L1024.34,178.98L1024.50,178.94L1024.65,178.90L1024.80,178.86L1024.95,178.83L1025.10,178.79L1025.25,178.75L1025.41,178.72L1025.56,178.68L1025.71,178.64L1025.86,178.61L1026.01,178.57L1026.16,178.53L1026.32,178.49L1026.47,178.46L1026.62,178.42L1026.77,178.38L1026.92,178.35L1027.07,178.31L1027.23,178.27L1027.38,178.24L1027.53,178.20L1027.68,178.16L1027.83,178.13L1027.98,178.09L1028.14,178.05L1028.29,178.01L1028.44,177.98L1028.59,177.94L1028.74,177.90L1028.90,177.87L1029.05,177.83L1029.20,177.79L1029.35,177.76L1029.50,177.72L1029.65,177.68L1029.81,177.64L1029.96,177.61L1030.11,177.57L1030.26,177.53L1030.41,177.50L1030.56,177.59L1030.72,177.72L1030.87,177.85L1031.02,177.99L1031.17,178.12L1031.32,178.26L1031.47,178.39L1031.63,178.53L1031.78,178.66L1031.93,178.79L1032.08,178.93L1032.23,179.06L1032.38,179.20L1032.54,179.33L1032.69,179.47L1032.84,179.60L1032.99,179.73L1033.14,179.87L1033.29,180.00L1033.45,180.14L1033.60,180.27L1033.75,180.41L1033.90,180.54L1034.05,180.67L1034.21,180.81L1034.36,180.94L1034.51,181.08L1034.66,181.21L1034.81,181.35L1034.96,181.48L1035.12,181.61L1035.27,181.75L1035.42,181.88L1035.57,182.02L1035.72,182.15L1035.87,182.33L1036.03,182.53L1036.18,182.72L1036.33,184.54L1036.48,186.89L1036.63,189.24L1036.78,191.59L1036.94,193.94L1037.09,196.29L1037.24,195.09L1037.39,192.74L1037.54,190.39L1037.69,188.04L1037.85,185.69L1038.00,183.34L1038.15,182.70L1038.30,182.61L1038.45,182.51L1038.61,182.42L1038.76,182.32L1038.91,182.23L1039.06,182.14L1039.21,182.04L1039.36,181.95L1039.52,181.85L1039.67,181.91L1039.82,182.02L1039.97,182.12L1040.12,182.23L1040.27,182.34L1040.43,182.44L1040.58,182.55L1040.73,182.65L1040.88,182.76L1041.03,182.86L1041.18,182.97L1041.34,183.08L1041.49,183.18L1041.64,183.29L1041.79,183.39L1041.94,183.50L1042.09,183.60L1042.25,183.71L1042.40,183.82L1042.55,183.92L1042.70,183.88L1042.85,183.79L1043.00,183.70L1043.16,183.61L1043.31,183.53L1043.46,183.44L1043.61,183.35L1043.76,183.26L1043.92,183.17L1044.07,183.09L1044.22,183.00L1044.37,182.91L1044.52,182.82L1044.67,182.73L1044.83,182.64L1044.98,182.56L1045.13,182.47L1045.28,182.38L1045.43,182.29L1045.58,182.20L1045.74,182.09L1045.89,181.97L1046.04,181.85L1046.19,181.73L1046.34,181.61L1046.49,181.49L1046.65,181.37L1046.80,181.25L1046.95,181.13L1047.10,181.01L1047.25,180.89L1047.40,180.77L1047.56,180.65L1047.71,180.53L1047.86,180.41L1048.01,180.29L1048.16,180.17L1048.31,180.05L1048.47,179.93L1048.62,179.81L1048.77,179.69L1048.92,179.57L1049.07,179.45L1049.23,179.33L1049.38,179.21L1049.53,179.09L1049.68,178.97L1049.83,178.85L1049.98,178.73L1050.14,178.61L1050.29,178.49L1050.44,178.36L1050.59,178.24L1050.74,178.12L1050.89,178.00L1051.05,177.88L1051.20,177.76L1051.35,177.64L1051.50,177.52L1051.65,177.40L1051.80,177.28L1051.96,177.16L1052.11,177.04L1052.26,176.95L1052.41,176.86L1052.56,176.78L1052.71,176.69L1052.87,176.60L1053.02,176.52L1053.17,176.43L1053.32,176.35L1053.47,176.26L1053.63,176.17L1053.78,176.09L1053.93,176.00L1054.08,175.92L1054.23,175.83L1054.38,175.74L1054.54,175.66L1054.69,175.57L1054.84,175.48L1054.99,175.40L1055.14,175.31L1055.29,175.23L1055.45,175.14L1055.60,175.05L1055.75,174.97L1055.90,174.88L1056.05,174.80L1056.20,174.71L1056.36,174.62L1056.51,174.54L1056.66,174.45L1056.81,174.36L1056.96,174.28L1057.11,174.19L1057.27,174.11L1057.42,174.02L1057.57,173.93L1057.72,173.85L1057.87,173.76L1058.02,173.68L1058.18,173.59L1058.33,173.50L1058.48,173.42L1058.63,173.33L1058.78,173.24L1058.94,173.16L1059.09,173.24L1059.24,173.36L1059.39,173.49L1059.54,173.61L1059.69,173.73L1059.85,173.85L1060.00,173.98L1060.15,174.10L1060.30,174.22L1060.45,174.34L1060.60,174.47L1060.76,175.27L1060.91,177.62L1061.06,179.97L1061.21,182.32L1061.36,184.67L1061.51,187.02L1061.67,188.04L1061.82,186.08L1061.97,184.12L1062.12,182.16L1062.27,180.21L1062.42,178.25L1062.58,176.88L1062.73,176.81L1062.88,176.75L1063.03,176.68L1063.18,176.62L1063.33,176.55L1063.49,176.49L1063.64,176.42L1063.79,176.36L1063.94,176.34L1064.09,176.42L1064.25,176.51L1064.40,176.59L1064.55,176.68L1064.70,176.76L1064.85,176.85L1065.00,176.93L1065.16,177.02L1065.31,177.10L1065.46,177.18L1065.61,177.27L1065.76,177.35L1065.91,177.44L1066.07,177.52L1066.22,177.61L1066.37,177.69L1066.52,177.78L1066.67,177.86L1066.82,177.95L1066.98,178.03L1067.13,178.12L1067.28,178.20L1067.43,178.28L1067.58,178.37L1067.73,178.45L1067.89,178.54L1068.04,178.62L1068.19,178.71L1068.34,178.79L1068.49,178.88L1068.65,178.96L1068.80,179.05L1068.95,179.13L1069.10,179.21L1069.25,179.30L1069.40,179.38L1069.56,179.47L1069.71,179.46L1069.86,179.43L1070.01,179.40L1070.16,179.37L1070.31,179.33L1070.47,179.30L1070.62,179.27L1070.77,179.24L1070.92,179.21L1071.07,179.18L1071.22,179.15L1071.38,179.12L1071.53,179.09L1071.68,179.06L1071.83,179.03L1071.98,179.00L1072.13,178.97L1072.29,178.94L1072.44,178.90L1072.59,178.87L1072.74,178.84L1072.89,178.81L1073.04,178.78L1073.20,178.75L1073.35,178.72L1073.50,178.69L1073.65,178.66L1073.80,178.63L1073.96,178.60L1074.11,178.57L1074.26,178.54L1074.41,178.51L1074.56,178.47L1074.71,178.44L1074.87,178.41L1075.02,178.38L1075.17,178.35L1075.32,178.32L1075.47,178.29L1075.62,178.26L1075.78,178.23L1075.93,178.20L1076.08,178.17L1076.23,178.14L1076.38,178.11L1076.53,178.08L1076.69,178.04L1076.84,178.01L1076.99,177.98L1077.14,177.95L1077.29,177.92L1077.44,177.89L1077.60,177.86L1077.75,177.83L1077.90,177.80L1078.05,177.77L1078.20,177.74L1078.35,177.71L1078.51,177.68L1078.66,177.65L1078.81,177.61L1078.96,177.58L1079.11,177.55L1079.27,177.52L1079.42,177.49L1079.57,177.60L1079.72,177.73L1079.87,177.87L1080.02,178.00L1080.18,178.14L1080.33,178.27L1080.48,178.41L1080.63,178.54L1080.78,178.67L1080.93,178.81L1081.09,178.94L1081.24,179.08L1081.39,179.21L1081.54,179.35L1081.69,179.48L1081.84,179.61L1082.00,179.75L1082.15,179.88L1082.30,180.02L1082.45,180.15L1082.60,180.29L1082.75,180.42L1082.91,180.55L1083.06,180.69L1083.21,180.82L1083.36,180.96L1083.51,181.09L1083.67,181.23L1083.82,181.36L1083.97,181.49L1084.12,181.63L1084.27,181.76L1084.42,181.90L1084.58,182.03L1084.73,182.17L1084.88,182.35L1085.03,182.55L1085.18,182.74L1085.33,184.79L1085.49,187.14L1085.64,189.49L1085.79,191.84L1085.94,194.19L1086.09,196.54L1086.24,194.84L1086.40,192.49L1086.55,190.14L1086.70,187.79L1086.85,185.44L1087.00,183.09L1087.15,182.69L1087.31,182.60L1087.46,182.50L1087.61,182.41L1087.76,182.31L1087.91,182.22L1088.06,182.13L1088.22,182.03L1088.37,181.94L1088.52,181.84L1088.67,181.92L1088.82,182.03L1088.98,182.14L1089.13,182.24L1089.28,182.35L1089.43,182.45L1089.58,182.56L1089.73,182.66L1089.89,182.77L1090.04,182.88L1090.19,182.98L1090.34,183.09L1090.49,183.19L1090.64,183.30L1090.80,183.40L1090.95,183.51L1091.10,183.62L1091.25,183.72L1091.40,183.83L1091.55,183.93L1091.71,183.87L1091.86,183.78L1092.01,183.69L1092.16,183.60L1092.31,183.52L1092.46,183.43L1092.62,183.34L1092.77,183.25L1092.92,183.16L1093.07,183.08L1093.22,182.99L1093.37,182.90L1093.53,182.81L1093.68,182.72L1093.83,182.64L1093.98,182.55L1094.13,182.46L1094.29,182.37L1094.44,182.28L1094.59,182.19L1094.74,182.04L1094.89,181.88L1095.04,181.72L1095.20,181.56L1095.35,181.40L1095.50,181.23L1095.65,181.07L1095.80,180.91L1095.95,180.75L1096.11,180.59L1096.26,180.43L1096.41,180.27L1096.56,180.10L1096.71,179.94L1096.86,179.78L1097.02,179.62L1097.17,179.46L1097.32,179.30L1097.47,179.13L1097.62,178.97L1097.77,178.81L1097.93,178.65L1098.08,178.49L1098.23,178.33L1098.38,178.17L1098.53,178.00L1098.69,177.84L1098.84,177.68L1098.99,177.52L1099.14,177.36L1099.29,177.20L1099.44,177.03L1099.60,176.94L1099.75,176.85L1099.90,176.77L1100.05,176.68L1100.20,176.60L1100.35,176.51L1100.51,176.42L1100.66,176.34L1100.81,176.25L1100.96,176.16L1101.11,176.08L1101.26,175.99L1101.42,175.91L1101.57,175.82L1101.72,175.73L1101.87,175.65L1102.02,175.56L1102.17,175.48L1102.33,175.39L1102.48,175.30L1102.63,175.22L1102.78,175.13L1102.93,175.05L1103.08,174.96L1103.24,174.87L1103.39,174.79L1103.54,174.70L1103.69,174.61L1103.84,174.53L1104.00,174.44L1104.15,174.36L1104.30,174.27L1104.45,174.18L1104.60,174.10L1104.75,174.01L1104.91,173.93L1105.06,173.84L1105.21,173.75L1105.36,173.67L1105.51,173.58L1105.66,173.49L1105.82,173.41L1105.97,173.32L1106.12,173.24L1106.27,173.15L1106.42,173.25L1106.57,173.38L1106.73,173.50L1106.88,173.62L1107.03,173.74L1107.18,173.87L1107.33,173.99L1107.48,174.11L1107.64,174.23L1107.79,174.36L1107.94,174.48L1108.09,175.52L1108.24,177.87L1108.39,180.22L1108.55,182.56L1108.70,184.91L1108.85,187.26L1109.00,187.83L1109.15,185.88L1109.31,183.92L1109.46,181.96L1109.61,180.00L1109.76,178.05L1109.91,176.87L1110.06,176.81L1110.22,176.74L1110.37,176.68L1110.52,176.61L1110.67,176.55L1110.82,176.48L1110.97,176.42L1111.13,176.35L1111.28,176.35L1111.43,176.43L1111.58,176.52L1111.73,176.60L1111.88,176.69L1112.04,176.77L1112.19,176.86L1112.34,176.94L1112.49,177.02L1112.64,177.11L1112.79,177.19L1112.95,177.28L1113.10,177.36L1113.25,177.45L1113.40,177.53L1113.55,177.62L1113.71,177.70L1113.86,177.79L1114.01,177.87L1114.16,177.95L1114.31,178.04L1114.46,178.12L1114.62,178.21L1114.77,178.29L1114.92,178.38L1115.07,178.46L1115.22,178.55L1115.37,178.63L1115.53,178.72L1115.68,178.80L1115.83,178.89L1115.98,178.97L1116.13,179.05L1116.28,179.14L1116.44,179.22L1116.59,179.31L1116.74,179.39L1116.89,179.48L1117.04,179.46L1117.19,179.43L1117.35,179.40L1117.50,179.37L1117.65,179.34L1117.80,179.31L1117.95,179.28L1118.10,179.25L1118.26,179.22L1118.41,179.19L1118.56,179.16L1118.71,179.14L1118.86,179.11L1119.02,179.08L1119.17,179.05L1119.32,179.02L1119.47,178.99L1119.62,178.96L1119.77,178.93L1119.93,178.90L1120.08,178.87L1120.23,178.84L1120.38,178.81L1120.53,178.79L1120.68,178.76L1120.84,178.73L1120.99,178.70L1121.14,178.67L1121.29,178.64L1121.44,178.61L1121.59,178.58L1121.75,178.55L1121.90,178.52L1122.05,178.49L1122.20,178.46L1122.35,178.44L1122.50,178.41L1122.66,178.38L1122.81,178.35L1122.96,178.32L1123.11,178.29L1123.26,178.26L1123.41,178.23L1123.57,178.20L1123.72,178.17L1123.87,178.14L1124.02,178.12L1124.17,178.09L1124.33,178.06L1124.48,178.03L1124.63,178.00L1124.78,177.97L1124.93,177.94L1125.08,177.91L1125.24,177.88L1125.39,177.85L1125.54,177.82L1125.69,177.79L1125.84,177.77L1125.99,177.74L1126.15,177.71L1126.30,177.68L1126.45,177.65L1126.60,177.62L1126.75,177.59L1126.90,177.56L1127.06,177.53L1127.21,177.50L1127.36,177.55L1127.51,177.68L1127.66,177.82L1127.81,177.95L1127.97,178.08L1128.12,178.22L1128.27,178.35L1128.42,178.49L1128.57,178.62L1128.73,178.76L1128.88,178.89L1129.03,179.02L1129.18,179.16L1129.33,179.29L1129.48,179.43L1129.64,179.56L1129.79,179.70L1129.94,179.83L1130.09,179.96L1130.24,180.10L1130.39,180.23L1130.55,180.37L1130.70,180.50L1130.85,180.64L1131.00,180.77L1131.15,180.90L1131.30,181.04L1131.46,181.17L1131.61,181.31L1131.76,181.44L1131.91,181.58L1132.06,181.71L1132.21,181.84L1132.37,181.98L1132.52,182.11L1132.67,182.28L1132.82,182.47L1132.97,182.67L1133.12,184.23L1133.28,187.36L1133.43,190.50L1133.58,193.63L1133.73,196.76L1133.88,199.89L1134.04,200.10L1134.19,196.96L1134.34,193.83L1134.49,190.70L1134.64,187.56L1134.79,184.43L1134.95,182.73L1135.10,182.63L1135.25,182.54L1135.40,182.45L1135.55,182.35L1135.70,182.26L1135.86,182.16L1136.01,182.07L1136.16,181.98L1136.31,181.88L1136.46,181.88L1136.61,181.99L1136.77,182.09L1136.92,182.20L1137.07,182.30L1137.22,182.41L1137.37,182.52L1137.52,182.62L1137.68,182.73L1137.83,182.83L1137.98,182.94L1138.13,183.04L1138.28,183.15L1138.43,183.26L1138.59,183.36L1138.74,183.47L1138.89,183.57L1139.04,183.68L1139.19,183.78L1139.35,183.89L1139.50,183.90L1139.65,183.82L1139.80,183.73L1139.95,183.64L1140.10,183.55L1140.26,183.46L1140.41,183.37L1140.56,183.29L1140.71,183.20L1140.86,183.11L1141.01,183.02L1141.17,182.93L1141.32,182.85L1141.47,182.76L1141.62,182.67L1141.77,182.58L1141.92,182.49L1142.08,182.41L1142.23,182.32L1142.38,182.23L1142.53,182.10L1142.68,181.93L1142.83,181.76L1142.99,181.59L1143.14,181.42L1143.29,181.25L1143.44,181.08L1143.59,180.92L1143.75,180.75L1143.90,180.58L1144.05,180.41L1144.20,180.24L1144.35,180.07L1144.50,179.90L1144.66,179.73L1144.81,179.56L1144.96,179.39L1145.11,179.22L1145.26,179.05L1145.41,178.88L1145.57,178.71L1145.72,178.54L1145.87,178.37L1146.02,178.20L1146.17,178.03L1146.32,177.87L1146.48,177.70L1146.63,177.53L1146.78,177.36L1146.93,177.19L1147.08,177.02L1147.23,176.93L1147.39,176.85L1147.54,176.76L1147.69,176.67L1147.84,176.59L1147.99,176.50L1148.14,176.41L1148.30,176.33L1148.45,176.24L1148.60,176.16" fill="none" stroke="#D95319" stroke-width="2.2" stroke-dasharray="8 8"/>
<path d="M693.60,161.63L693.93,162.37L694.26,163.24L694.59,164.25L694.92,165.37L695.25,166.59L695.58,167.91L695.91,169.30L696.24,170.76L696.58,172.30L696.91,174.02L697.24,175.91L697.57,177.97L697.90,180.17L698.23,182.49L698.56,184.92L698.89,187.43L699.22,190.02L699.55,192.66L699.88,195.25L700.21,197.75L700.54,200.36L700.87,203.26L701.20,206.63L701.53,210.66L701.86,215.66L702.19,224.25L702.52,234.89L702.86,244.56L703.19,253.69L703.52,262.78L703.85,272.07L704.18,281.76L704.51,293.21L704.84,305.63L705.17,314.58L705.50,319.38L705.83,323.40L706.16,326.18L706.49,327.21L706.96,320.86L707.43,314.81L707.89,309.04L708.36,303.38L708.83,297.89L709.30,292.59L709.76,287.52L710.23,282.71L710.70,278.07L711.17,273.52L711.63,269.05L712.10,264.70L712.57,260.48L713.03,256.39L713.50,252.47L713.97,248.71L714.44,245.15L714.90,241.79L715.37,238.65L715.84,235.75L716.31,233.06L716.77,230.50L717.24,228.03L717.71,225.58L718.18,223.11L718.64,220.55L719.11,217.99L719.58,215.57L720.05,213.26L720.51,211.02L720.98,208.81L721.45,206.59L721.92,204.32L722.38,201.96L722.85,199.47L723.32,196.81L723.78,193.95L724.25,190.84L724.72,187.44L725.19,183.71L725.65,179.72L726.12,175.38L726.59,170.13L727.06,163.36L727.52,154.50L727.99,137.88L728.46,109.79L728.93,93.12L729.39,81.78L729.81,87.16L730.22,92.12L730.64,96.05L731.05,99.12L731.47,101.84L731.88,104.26L732.30,106.47L732.71,108.52L733.13,110.50L733.54,112.47L733.96,114.51L734.38,116.67L734.79,118.86L735.21,121.00L735.62,123.12L736.04,125.22L736.45,127.33L736.87,129.44L737.28,131.59L737.70,133.77L738.11,136.00L738.53,138.24L738.94,140.48L739.36,142.72L739.77,144.98L740.19,147.27L740.60,149.58L741.02,151.94L741.43,154.35L741.85,156.82L742.26,159.35L742.68,161.96L743.09,164.64L743.51,167.33L743.92,170.06L744.34,172.87L744.75,175.78L745.17,178.82L745.58,182.04L746.00,185.47L746.41,189.14L746.83,193.09L747.25,197.38L747.66,202.07L748.08,207.19L748.49,212.77L748.91,218.85L749.32,226.22L749.74,235.18L750.15,243.49L750.57,249.33L750.98,254.55L751.40,262.85L751.81,276.43L752.23,292.47L752.64,307.81L753.06,322.63L753.47,337.71L753.89,353.05L754.28,340.54L754.67,329.22L755.07,319.86L755.46,312.78L755.85,306.78L756.25,301.55L756.64,296.91L757.03,292.67L757.43,288.67L757.82,284.89L758.21,281.34L758.61,278.00L759.00,274.84L759.39,271.82L759.79,268.92L760.18,266.11L760.57,263.35L760.97,260.64L761.36,258.04L761.75,255.55L762.15,253.13L762.54,250.78L762.93,248.48L763.33,246.20L763.72,243.92L764.11,241.63L764.51,239.30L764.90,236.96L765.29,234.63L765.69,232.30L766.08,229.99L766.47,227.68L766.87,225.40L767.26,223.14L767.65,220.92L768.05,218.72L768.44,216.56L768.83,214.50L769.23,212.61L769.62,210.82L770.01,209.10L770.41,207.37L770.80,205.57L771.19,203.66L771.59,201.57L771.98,199.25L772.37,196.64L772.77,193.70L773.16,190.33L773.55,186.31L773.95,181.42L774.34,175.41L774.73,165.86L775.13,152.98L775.52,138.69L775.91,121.44L776.31,106.80L776.70,94.72L777.09,84.71L777.51,90.37L777.93,95.58L778.34,99.71L778.76,102.94L779.17,105.79L779.59,108.33L780.01,110.65L780.42,112.81L780.84,114.89L781.26,116.96L781.67,119.10L782.09,121.38L782.51,123.67L782.92,125.92L783.34,128.15L783.76,130.36L784.17,132.57L784.59,134.79L785.00,137.05L785.42,139.34L785.84,141.69L786.25,144.04L786.67,146.39L787.09,148.75L787.50,151.12L787.92,153.52L788.34,155.95L788.75,158.43L789.17,160.96L789.59,163.55L790.00,166.21L790.42,168.96L790.84,171.77L791.25,174.60L791.67,177.47L792.08,180.42L792.50,183.47L792.92,186.67L793.33,190.06L793.75,193.66L794.17,197.51L794.58,201.66L795.00,206.18L795.42,211.10L795.83,216.48L796.25,222.34L796.67,228.73L797.08,236.47L797.50,245.89L797.91,254.62L798.33,260.75L798.75,266.24L799.16,274.96L799.58,289.22L800.00,306.08L800.41,322.19L800.83,337.76L801.25,353.61L801.66,369.73L802.08,357.13L802.49,345.73L802.90,336.30L803.31,329.18L803.73,323.13L804.14,317.86L804.55,313.19L804.96,308.92L805.38,304.89L805.79,301.08L806.20,297.51L806.61,294.15L807.03,290.97L807.44,287.93L807.85,285.01L808.26,282.17L808.68,279.40L809.09,276.67L809.50,274.05L809.91,271.54L810.33,269.11L810.74,266.74L811.15,264.42L811.56,262.13L811.98,259.83L812.39,257.52L812.80,255.18L813.21,252.83L813.63,250.48L814.04,248.13L814.45,245.80L814.87,243.48L815.28,241.18L815.69,238.91L816.10,236.67L816.52,234.45L816.93,232.28L817.34,230.21L817.75,228.30L818.17,226.50L818.58,224.76L818.99,223.02L819.40,221.22L819.82,219.29L820.23,217.19L820.64,214.85L821.05,212.22L821.47,209.26L821.88,205.87L822.29,201.82L822.70,196.89L823.12,190.84L823.53,181.23L823.94,168.26L824.35,153.86L824.77,136.50L825.18,121.75L825.59,109.59L826.00,99.51L826.39,105.02L826.78,110.09L827.17,114.12L827.56,117.26L827.95,120.04L828.33,122.52L828.72,124.77L829.11,126.88L829.50,128.91L829.89,130.92L830.27,133.01L830.66,135.22L831.05,137.46L831.44,139.65L831.83,141.82L832.22,143.97L832.60,146.12L832.99,148.29L833.38,150.48L833.77,152.72L834.16,155.00L834.54,157.30L834.93,159.58L835.32,161.88L835.71,164.19L836.10,166.53L836.49,168.90L836.87,171.32L837.26,173.78L837.65,176.30L838.04,178.90L838.43,181.57L838.81,184.31L839.20,187.06L839.59,189.86L839.98,192.73L840.37,195.70L840.76,198.82L841.14,202.12L841.53,205.63L841.92,209.38L842.31,213.42L842.70,217.82L843.08,222.62L843.47,227.85L843.86,233.56L844.25,239.78L844.64,247.32L845.03,256.50L845.41,265.01L845.80,270.98L846.19,276.32L846.58,284.82L846.97,298.71L847.35,315.13L847.74,330.83L848.13,345.99L848.52,361.43L848.91,377.12L849.33,364.11L849.75,352.33L850.17,342.58L850.59,335.22L851.01,328.97L851.43,323.53L851.85,318.70L852.27,314.29L852.69,310.12L853.11,306.19L853.53,302.50L853.95,299.02L854.37,295.73L854.79,292.59L855.21,289.57L855.63,286.64L856.05,283.77L856.47,280.95L856.89,278.25L857.31,275.65L857.73,273.14L858.15,270.70L858.57,268.30L858.99,265.92L859.41,263.55L859.83,261.16L860.25,258.74L860.67,256.31L861.10,253.88L861.52,251.46L861.94,249.05L862.36,246.66L862.78,244.28L863.20,241.93L863.62,239.61L864.04,237.33L864.46,235.08L864.88,232.93L865.30,230.96L865.72,229.11L866.14,227.31L866.56,225.51L866.98,223.65L867.40,221.66L867.82,219.48L868.24,217.07L868.66,214.34L869.08,211.28L869.50,207.78L869.92,203.60L870.34,198.51L870.76,192.25L871.18,182.32L871.60,168.92L872.02,154.04L872.44,136.09L872.86,120.85L873.28,108.28L873.70,97.87L874.09,103.57L874.48,108.81L874.86,112.97L875.25,116.22L875.64,119.10L876.03,121.66L876.41,124.00L876.80,126.17L877.19,128.27L877.57,130.36L877.96,132.51L878.35,134.80L878.73,137.11L879.12,139.38L879.51,141.62L879.89,143.85L880.28,146.08L880.67,148.32L881.05,150.59L881.44,152.90L881.83,155.26L882.22,157.63L882.60,160.00L882.99,162.37L883.38,164.77L883.76,167.18L884.15,169.64L884.54,172.13L884.92,174.68L885.31,177.29L885.70,179.97L886.08,182.73L886.47,185.57L886.86,188.42L887.24,191.31L887.63,194.28L888.02,197.36L888.41,200.58L888.79,203.99L889.18,207.62L889.57,211.50L889.95,215.68L890.34,220.23L890.73,225.19L891.11,230.61L891.50,236.51L891.89,242.95L892.27,250.74L892.66,260.24L893.05,269.03L893.43,275.21L893.82,280.74L894.21,289.52L894.60,303.89L894.98,320.88L895.37,337.11L895.76,352.79L896.14,368.76L896.53,384.99L896.94,371.46L897.36,359.21L897.77,349.07L898.19,341.41L898.60,334.91L899.01,329.25L899.43,324.23L899.84,319.65L900.25,315.31L900.67,311.22L901.08,307.38L901.50,303.77L901.91,300.35L902.32,297.08L902.74,293.94L903.15,290.90L903.57,287.91L903.98,284.98L904.39,282.17L904.81,279.47L905.22,276.85L905.64,274.31L906.05,271.82L906.46,269.35L906.88,266.88L907.29,264.40L907.70,261.88L908.12,259.35L908.53,256.83L908.95,254.31L909.36,251.80L909.77,249.31L910.19,246.84L910.60,244.40L911.02,241.99L911.43,239.61L911.84,237.27L912.26,235.04L912.67,232.99L913.08,231.06L913.50,229.19L913.91,227.32L914.33,225.38L914.74,223.31L915.15,221.05L915.57,218.54L915.98,215.71L916.40,212.53L916.81,208.88L917.22,204.54L917.64,199.24L918.05,192.73L918.47,182.40L918.88,168.47L919.29,152.99L919.71,134.33L920.12,118.48L920.53,105.41L920.95,94.58L921.34,100.33L921.73,105.62L922.12,109.82L922.52,113.10L922.91,116.00L923.30,118.59L923.69,120.94L924.08,123.14L924.48,125.25L924.87,127.36L925.26,129.53L925.65,131.84L926.04,134.18L926.44,136.47L926.83,138.73L927.22,140.98L927.61,143.22L928.00,145.48L928.40,147.77L928.79,150.11L929.18,152.49L929.57,154.88L929.96,157.27L930.36,159.67L930.75,162.08L931.14,164.52L931.53,166.99L931.92,169.51L932.32,172.08L932.71,174.72L933.10,177.42L933.49,180.21L933.88,183.07L934.28,185.95L934.67,188.86L935.06,191.86L935.45,194.96L935.85,198.22L936.24,201.66L936.63,205.32L937.02,209.23L937.41,213.45L937.81,218.04L938.20,223.05L938.59,228.51L938.98,234.47L939.37,240.96L939.77,248.83L940.16,258.41L940.55,267.29L940.94,273.52L941.33,279.09L941.73,287.96L942.12,302.45L942.51,319.59L942.90,335.97L943.29,351.80L943.69,367.91L944.08,384.29L944.49,370.54L944.90,358.10L945.32,347.80L945.73,340.02L946.14,333.42L946.55,327.67L946.97,322.57L947.38,317.91L947.79,313.51L948.20,309.35L948.62,305.45L949.03,301.78L949.44,298.31L949.85,294.99L950.27,291.80L950.68,288.71L951.09,285.68L951.50,282.70L951.92,279.84L952.33,277.10L952.74,274.44L953.15,271.86L953.57,269.33L953.98,266.82L954.39,264.32L954.80,261.79L955.22,259.24L955.63,256.67L956.04,254.10L956.46,251.54L956.87,249.00L957.28,246.47L957.69,243.96L958.11,241.48L958.52,239.03L958.93,236.61L959.34,234.24L959.76,231.97L960.17,229.89L960.58,227.93L960.99,226.03L961.41,224.13L961.82,222.16L962.23,220.06L962.64,217.76L963.06,215.21L963.47,212.34L963.88,209.10L964.29,205.40L964.71,200.99L965.12,195.61L965.53,189.00L965.94,178.50L966.36,164.35L966.77,148.63L967.18,129.67L967.59,113.58L968.01,100.29L968.42,89.29L968.81,95.03L969.20,100.31L969.59,104.50L969.98,107.77L970.37,110.66L970.76,113.24L971.15,115.59L971.54,117.79L971.93,119.90L972.31,122.00L972.70,124.16L973.09,126.47L973.48,128.80L973.87,131.08L974.26,133.34L974.65,135.58L975.04,137.82L975.43,140.08L975.82,142.36L976.21,144.69L976.60,147.06L976.99,149.45L977.38,151.83L977.77,154.22L978.16,156.63L978.55,159.06L978.94,161.53L979.32,164.04L979.71,166.61L980.10,169.24L980.49,171.94L980.88,174.72L981.27,177.57L981.66,180.44L982.05,183.35L982.44,186.34L982.83,189.44L983.22,192.68L983.61,196.11L984.00,199.76L984.39,203.67L984.78,207.88L985.17,212.46L985.56,217.45L985.95,222.90L986.33,228.85L986.72,235.32L987.11,243.17L987.50,252.73L987.89,261.58L988.28,267.80L988.67,273.36L989.06,282.20L989.45,296.66L989.84,313.76L990.23,330.10L990.62,345.89L991.01,361.96L991.40,378.30L991.82,364.59L992.24,352.19L992.66,341.93L993.08,334.17L993.50,327.59L993.92,321.86L994.34,316.77L994.76,312.13L995.18,307.74L995.60,303.60L996.02,299.72L996.44,296.06L996.86,292.59L997.28,289.28L997.70,286.11L998.12,283.02L998.54,280.00L998.96,277.03L999.38,274.18L999.80,271.45L1000.22,268.81L1000.64,266.23L1001.06,263.71L1001.48,261.21L1001.90,258.71L1002.33,256.19L1002.75,253.64L1003.17,251.09L1003.59,248.53L1004.01,245.98L1004.43,243.44L1004.85,240.92L1005.27,238.42L1005.69,235.94L1006.11,233.50L1006.53,231.09L1006.95,228.73L1007.37,226.47L1007.79,224.39L1008.21,222.44L1008.63,220.55L1009.05,218.65L1009.47,216.69L1009.89,214.59L1010.31,212.31L1010.73,209.76L1011.15,206.89L1011.57,203.67L1011.99,199.98L1012.41,195.58L1012.83,190.22L1013.25,183.63L1013.67,173.17L1014.09,159.06L1014.51,143.39L1014.93,124.49L1015.35,108.45L1015.77,95.21L1016.19,84.24L1016.58,89.77L1016.96,94.84L1017.34,98.87L1017.73,102.02L1018.11,104.80L1018.49,107.29L1018.88,109.55L1019.26,111.66L1019.64,113.69L1020.03,115.71L1020.41,117.80L1020.79,120.02L1021.17,122.25L1021.56,124.45L1021.94,126.62L1022.32,128.78L1022.71,130.94L1023.09,133.11L1023.47,135.30L1023.86,137.54L1024.24,139.83L1024.62,142.13L1025.00,144.42L1025.39,146.72L1025.77,149.04L1026.15,151.38L1026.54,153.75L1026.92,156.17L1027.30,158.64L1027.69,161.17L1028.07,163.76L1028.45,166.44L1028.83,169.18L1029.22,171.95L1029.60,174.75L1029.98,177.62L1030.37,180.60L1030.75,183.73L1031.13,187.03L1031.52,190.54L1031.90,194.30L1032.28,198.35L1032.66,202.75L1033.05,207.56L1033.43,212.80L1033.81,218.52L1034.20,224.76L1034.58,232.31L1034.96,241.50L1035.35,250.02L1035.73,256.00L1036.11,261.36L1036.50,269.86L1036.88,283.78L1037.26,300.23L1037.64,315.95L1038.03,331.14L1038.41,346.60L1038.79,362.33L1039.21,349.15L1039.63,337.22L1040.05,327.35L1040.47,319.89L1040.89,313.57L1041.31,308.05L1041.73,303.16L1042.15,298.70L1042.56,294.48L1042.98,290.49L1043.40,286.76L1043.82,283.24L1044.24,279.91L1044.66,276.73L1045.08,273.67L1045.50,270.70L1045.92,267.80L1046.34,264.94L1046.75,262.20L1047.17,259.57L1047.59,257.03L1048.01,254.56L1048.43,252.13L1048.85,249.72L1049.27,247.32L1049.69,244.90L1050.11,242.45L1050.53,239.99L1050.94,237.53L1051.36,235.08L1051.78,232.64L1052.20,230.21L1052.62,227.81L1053.04,225.43L1053.46,223.08L1053.88,220.77L1054.30,218.49L1054.72,216.32L1055.13,214.32L1055.55,212.45L1055.97,210.62L1056.39,208.80L1056.81,206.91L1057.23,204.90L1057.65,202.70L1058.07,200.25L1058.49,197.49L1058.91,194.40L1059.32,190.85L1059.74,186.62L1060.16,181.46L1060.58,175.12L1061.00,165.06L1061.42,151.49L1061.84,136.43L1062.26,118.25L1062.68,102.82L1063.10,90.09L1063.51,79.55L1063.93,85.09L1064.34,90.20L1064.75,94.24L1065.16,97.41L1065.57,100.20L1065.98,102.70L1066.39,104.97L1066.81,107.09L1067.22,109.13L1067.63,111.16L1068.04,113.26L1068.45,115.48L1068.86,117.73L1069.27,119.94L1069.68,122.12L1070.10,124.29L1070.51,126.46L1070.92,128.64L1071.33,130.84L1071.74,133.09L1072.15,135.39L1072.56,137.70L1072.97,140.00L1073.39,142.31L1073.80,144.64L1074.21,146.99L1074.62,149.38L1075.03,151.81L1075.44,154.29L1075.85,156.83L1076.27,159.44L1076.68,162.12L1077.09,164.88L1077.50,167.66L1077.91,170.47L1078.32,173.36L1078.73,176.35L1079.14,179.49L1079.56,182.81L1079.97,186.34L1080.38,190.11L1080.79,194.18L1081.20,198.61L1081.61,203.44L1082.02,208.70L1082.43,214.45L1082.85,220.71L1083.26,228.30L1083.67,237.53L1084.08,246.09L1084.49,252.10L1084.90,257.48L1085.31,266.03L1085.73,280.01L1086.14,296.54L1086.55,312.33L1086.96,327.59L1087.37,343.12L1087.78,358.92L1088.17,346.02L1088.56,334.35L1088.95,324.69L1089.34,317.38L1089.74,311.19L1090.13,305.80L1090.52,301.01L1090.91,296.64L1091.30,292.51L1091.69,288.61L1092.08,284.95L1092.47,281.51L1092.86,278.25L1093.25,275.13L1093.64,272.14L1094.03,269.24L1094.42,266.40L1094.81,263.60L1095.21,260.92L1095.60,258.34L1095.99,255.86L1096.38,253.43L1096.77,251.06L1097.16,248.70L1097.55,246.35L1097.94,243.99L1098.33,241.59L1098.72,239.18L1099.11,236.77L1099.50,234.37L1099.89,231.98L1100.29,229.61L1100.68,227.25L1101.07,224.92L1101.46,222.62L1101.85,220.36L1102.24,218.13L1102.63,216.01L1103.02,214.05L1103.41,212.21L1103.80,210.43L1104.19,208.65L1104.58,206.80L1104.97,204.83L1105.36,202.67L1105.76,200.28L1106.15,197.58L1106.54,194.55L1106.93,191.07L1107.32,186.93L1107.71,181.88L1108.10,175.68L1108.49,165.84L1108.88,152.55L1109.27,137.80L1109.66,120.02L1110.05,104.91L1110.44,92.45L1110.84,82.13L1111.26,87.78L1111.68,92.97L1112.10,97.09L1112.52,100.31L1112.94,103.15L1113.36,105.69L1113.78,108.00L1114.20,110.16L1114.62,112.23L1115.04,114.30L1115.46,116.43L1115.88,118.70L1116.30,120.99L1116.72,123.24L1117.14,125.46L1117.56,127.66L1117.98,129.87L1118.40,132.09L1118.82,134.33L1119.24,136.62L1119.66,138.96L1120.08,141.31L1120.50,143.65L1120.92,146.00L1121.34,148.37L1121.76,150.77L1122.18,153.19L1122.60,155.67L1123.02,158.19L1123.44,160.77L1123.86,163.43L1124.28,166.16L1124.70,168.97L1125.13,171.79L1125.55,174.66L1125.97,177.60L1126.39,180.64L1126.81,183.84L1127.23,187.21L1127.65,190.80L1128.07,194.65L1128.49,198.79L1128.91,203.29L1129.33,208.21L1129.75,213.57L1130.17,219.41L1130.59,225.79L1131.01,233.51L1131.43,242.91L1131.85,251.62L1132.27,257.73L1132.69,263.21L1133.11,271.90L1133.53,286.13L1133.95,302.95L1134.37,319.02L1134.79,334.55L1135.21,350.36L1135.63,366.44L1136.02,353.61L1136.41,342.00L1136.79,332.39L1137.18,325.13L1137.57,318.97L1137.95,313.61L1138.34,308.84L1138.73,304.50L1139.11,300.39L1139.50,296.51L1139.89,292.88L1140.28,289.45L1140.66,286.21L1141.05,283.11L1141.44,280.14L1141.82,277.25L1142.21,274.42L1142.60,271.64L1142.98,268.98L1143.37,266.42L1143.76,263.94L1144.14,261.53L1144.53,259.17L1144.92,256.83L1145.30,254.49L1145.69,252.14L1146.08,249.75L1146.47,247.35L1146.85,244.96L1147.24,242.57L1147.63,240.20L1148.01,237.83L1148.40,235.49L1148.60,234.29" fill="none" stroke="#0072BD" stroke-width="2.2" stroke-linejoin="round"/>
</g>
<rect x="693.6" y="44.2" width="455.00" height="352.30" fill="none" stroke="#808080" stroke-width="1.3"/>
<line x1="769.43" y1="396.5" x2="769.43" y2="392.0" stroke="#606060" stroke-width="1.3"/>
<line x1="769.43" y1="44.2" x2="769.43" y2="48.7" stroke="#606060" stroke-width="1.3"/>
<line x1="845.27" y1="396.5" x2="845.27" y2="392.0" stroke="#606060" stroke-width="1.3"/>
<line x1="845.27" y1="44.2" x2="845.27" y2="48.7" stroke="#606060" stroke-width="1.3"/>
<line x1="921.10" y1="396.5" x2="921.10" y2="392.0" stroke="#606060" stroke-width="1.3"/>
<line x1="921.10" y1="44.2" x2="921.10" y2="48.7" stroke="#606060" stroke-width="1.3"/>
<line x1="996.93" y1="396.5" x2="996.93" y2="392.0" stroke="#606060" stroke-width="1.3"/>
<line x1="996.93" y1="44.2" x2="996.93" y2="48.7" stroke="#606060" stroke-width="1.3"/>
<line x1="1072.77" y1="396.5" x2="1072.77" y2="392.0" stroke="#606060" stroke-width="1.3"/>
<line x1="1072.77" y1="44.2" x2="1072.77" y2="48.7" stroke="#606060" stroke-width="1.3"/>
<line x1="693.6" y1="102.92" x2="698.1" y2="102.92" stroke="#606060" stroke-width="1.3"/>
<line x1="1148.6" y1="102.92" x2="1144.1" y2="102.92" stroke="#606060" stroke-width="1.3"/>
<line x1="693.6" y1="161.63" x2="698.1" y2="161.63" stroke="#606060" stroke-width="1.3"/>
<line x1="1148.6" y1="161.63" x2="1144.1" y2="161.63" stroke="#606060" stroke-width="1.3"/>
<line x1="693.6" y1="220.35" x2="698.1" y2="220.35" stroke="#606060" stroke-width="1.3"/>
<line x1="1148.6" y1="220.35" x2="1144.1" y2="220.35" stroke="#606060" stroke-width="1.3"/>
<line x1="693.6" y1="279.07" x2="698.1" y2="279.07" stroke="#606060" stroke-width="1.3"/>
<line x1="1148.6" y1="279.07" x2="1144.1" y2="279.07" stroke="#606060" stroke-width="1.3"/>
<line x1="693.6" y1="337.78" x2="698.1" y2="337.78" stroke="#606060" stroke-width="1.3"/>
<line x1="1148.6" y1="337.78" x2="1144.1" y2="337.78" stroke="#606060" stroke-width="1.3"/>
<text x="694.90" y="424.3" text-anchor="middle" class="tk">0</text>
<text x="770.73" y="424.3" text-anchor="middle" class="tk">10</text>
<text x="846.57" y="424.3" text-anchor="middle" class="tk">20</text>
<text x="922.40" y="424.3" text-anchor="middle" class="tk">30</text>
<text x="998.23" y="424.3" text-anchor="middle" class="tk">40</text>
<text x="1074.07" y="424.3" text-anchor="middle" class="tk">50</text>
<text x="1149.90" y="424.3" text-anchor="middle" class="tk">60</text>
<text x="684.10" y="52.50" text-anchor="end" class="tk">1.0</text>
<text x="684.10" y="111.22" text-anchor="end" class="tk">0.5</text>
<text x="684.10" y="169.93" text-anchor="end" class="tk">0</text>
<line x1="635.00" y1="222.05" x2="651.00" y2="222.05" stroke="#000" stroke-width="1.3"/>
<text x="684.10" y="228.65" text-anchor="end" class="tk">0.5</text>
<line x1="635.00" y1="280.77" x2="651.00" y2="280.77" stroke="#000" stroke-width="1.3"/>
<text x="684.10" y="287.37" text-anchor="end" class="tk">1.0</text>
<line x1="635.00" y1="339.48" x2="651.00" y2="339.48" stroke="#000" stroke-width="1.3"/>
<text x="684.10" y="346.08" text-anchor="end" class="tk">1.5</text>
<line x1="635.00" y1="398.20" x2="651.00" y2="398.20" stroke="#000" stroke-width="1.3"/>
<text x="684.10" y="404.80" text-anchor="end" class="tk">2.0</text>
<g>
<rect x="707.3" y="57.3" width="66.9" height="70" fill="#fff" stroke="#555" stroke-width="1.2"/>
<line x1="711.3" y1="70" x2="753.1" y2="70" stroke="#0072BD" stroke-width="2.2"/>
<line x1="711.3" y1="92.4" x2="753.1" y2="92.4" stroke="#D95319" stroke-width="2.2" stroke-dasharray="8 8"/>
<line x1="711.05" y1="114.5" x2="753.1" y2="114.5" stroke="#EDB120" stroke-width="2.2" stroke-dasharray="2 2"/>
<text x="757" y="74.5" font-size="19" font-style="italic">c</text><text x="765.6" y="77" font-size="12">2</text>
<text x="757" y="96.9" font-size="19" font-style="italic">c</text><text x="765.6" y="99.4" font-size="12">3</text>
<text x="757" y="119" font-size="19" font-style="italic">c</text><text x="765.6" y="121.5" font-size="12">4</text>
</g>
<text x="599.6" y="26.8" font-size="29.5">(<tspan font-style="italic">b</tspan>)</text>
<text x="688" y="30.4" font-size="26">(</text><path d="M699.2,18.6L710.3,29.4M710.3,18.6L699.2,29.4" stroke="#000" stroke-width="1.4" fill="none"/><text x="720.5" y="30.4" font-size="26">10</text><line x1="746" y1="15.8" x2="755.6" y2="15.8" stroke="#000" stroke-width="1.2"/><text x="757.3" y="20.9" font-size="16.5">3</text><text x="765.5" y="30.4" font-size="26">)</text>
<text x="922.2" y="460.0" text-anchor="middle" font-size="29" font-style="italic">t</text>
</svg></body></html>
